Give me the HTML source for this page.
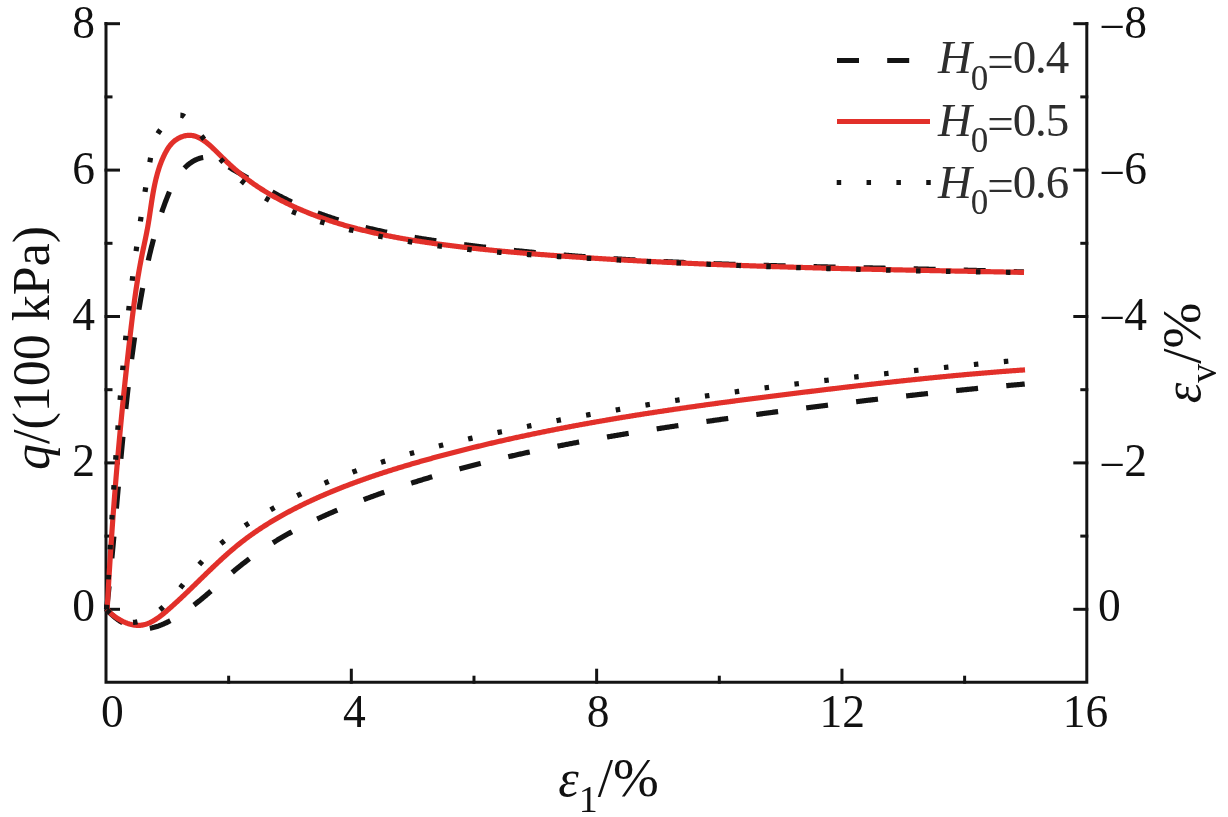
<!DOCTYPE html>
<html><head><meta charset="utf-8"><style>
html,body{margin:0;padding:0;background:#fff;}
body{width:1228px;height:817px;overflow:hidden;}
svg{display:block;will-change:transform;}
text{font-family:"Liberation Serif",serif;fill:#111;}
</style></head><body>
<svg width="1228" height="817" viewBox="0 0 1228 817">
<rect width="1228" height="817" fill="#fff"/>
<path d="M106,22 V682.2 H1086.8 V22" fill="none" stroke="#141414" stroke-width="3.0" stroke-linejoin="miter"/>
<line x1="104.5" y1="609.30" x2="120.00" y2="609.30" stroke="#141414" stroke-width="3.0"/>
<line x1="104.5" y1="536.10" x2="112.50" y2="536.10" stroke="#141414" stroke-width="3.0"/>
<line x1="104.5" y1="462.90" x2="120.00" y2="462.90" stroke="#141414" stroke-width="3.0"/>
<line x1="104.5" y1="389.70" x2="112.50" y2="389.70" stroke="#141414" stroke-width="3.0"/>
<line x1="104.5" y1="316.50" x2="120.00" y2="316.50" stroke="#141414" stroke-width="3.0"/>
<line x1="104.5" y1="243.30" x2="112.50" y2="243.30" stroke="#141414" stroke-width="3.0"/>
<line x1="104.5" y1="170.10" x2="120.00" y2="170.10" stroke="#141414" stroke-width="3.0"/>
<line x1="104.5" y1="96.90" x2="112.50" y2="96.90" stroke="#141414" stroke-width="3.0"/>
<line x1="104.5" y1="23.70" x2="120.00" y2="23.70" stroke="#141414" stroke-width="3.0"/>
<line x1="1088.3" y1="609.30" x2="1073.30" y2="609.30" stroke="#141414" stroke-width="3.0"/>
<line x1="1088.3" y1="536.10" x2="1080.30" y2="536.10" stroke="#141414" stroke-width="3.0"/>
<line x1="1088.3" y1="462.90" x2="1073.30" y2="462.90" stroke="#141414" stroke-width="3.0"/>
<line x1="1088.3" y1="389.70" x2="1080.30" y2="389.70" stroke="#141414" stroke-width="3.0"/>
<line x1="1088.3" y1="316.50" x2="1073.30" y2="316.50" stroke="#141414" stroke-width="3.0"/>
<line x1="1088.3" y1="243.30" x2="1080.30" y2="243.30" stroke="#141414" stroke-width="3.0"/>
<line x1="1088.3" y1="170.10" x2="1073.30" y2="170.10" stroke="#141414" stroke-width="3.0"/>
<line x1="1088.3" y1="96.90" x2="1080.30" y2="96.90" stroke="#141414" stroke-width="3.0"/>
<line x1="1088.3" y1="23.70" x2="1073.30" y2="23.70" stroke="#141414" stroke-width="3.0"/>
<line x1="228.66" y1="683.7" x2="228.66" y2="675.70" stroke="#141414" stroke-width="3.0"/>
<line x1="351.32" y1="683.7" x2="351.32" y2="668.70" stroke="#141414" stroke-width="3.0"/>
<line x1="473.98" y1="683.7" x2="473.98" y2="675.70" stroke="#141414" stroke-width="3.0"/>
<line x1="596.64" y1="683.7" x2="596.64" y2="668.70" stroke="#141414" stroke-width="3.0"/>
<line x1="719.30" y1="683.7" x2="719.30" y2="675.70" stroke="#141414" stroke-width="3.0"/>
<line x1="841.96" y1="683.7" x2="841.96" y2="668.70" stroke="#141414" stroke-width="3.0"/>
<line x1="964.62" y1="683.7" x2="964.62" y2="675.70" stroke="#141414" stroke-width="3.0"/>
<path d="M105.95,608.93 L106.71,609.75 L107.47,610.55 L108.24,611.35 L109.03,612.13 L109.82,612.90 L110.61,613.66 L111.42,614.40 L112.23,615.13 L113.06,615.84 L113.88,616.54 L114.72,617.23 L115.56,617.90 L116.41,618.55 L117.26,619.19 L118.12,619.81 L118.99,620.41 L119.86,621.00 L120.74,621.57 L121.62,622.12 L122.51,622.65 L123.40,623.16 L124.30,623.66 L125.20,624.13 L126.10,624.58 L127.01,625.02 L127.92,625.43 L128.84,625.82 L129.76,626.19 L130.68,626.54 L131.61,626.86 L132.53,627.16 L133.46,627.44 L134.40,627.70 L135.33,627.93 L136.27,628.13 L137.20,628.32 L138.14,628.47 L139.08,628.60 L140.02,628.71 L140.96,628.79 L141.91,628.84 L142.85,628.87 L143.79,628.87 L144.73,628.84 L145.68,628.79 L146.62,628.72 L147.56,628.62 L148.50,628.50 L149.44,628.36 L150.38,628.20 L151.32,628.01 L152.26,627.81 L153.19,627.59 L154.13,627.35 L155.06,627.09 L155.99,626.81 L156.92,626.51 L157.85,626.20 L158.78,625.88 L159.70,625.53 L160.62,625.18 L161.54,624.81 L162.45,624.43 L163.37,624.03 L164.28,623.63 L165.19,623.21 L166.09,622.78 L166.99,622.35 L167.89,621.90 L168.78,621.44 L169.67,620.98 L170.55,620.51 L171.44,620.03 L172.31,619.55 L173.19,619.06 L174.06,618.57 L174.92,618.06 L175.78,617.56 L176.64,617.04 L177.50,616.53 L178.35,616.00 L179.19,615.47 L180.04,614.94 L180.88,614.40 L181.71,613.85 L182.55,613.30 L183.38,612.75 L184.20,612.19 L185.03,611.63 L185.85,611.06 L186.67,610.48 L187.48,609.91 L188.30,609.32 L189.11,608.74 L189.91,608.15 L190.72,607.55 L191.52,606.95 L192.32,606.35 L193.12,605.75 L193.91,605.14 L194.70,604.53 L195.49,603.91 L196.28,603.29 L197.07,602.67 L197.85,602.04 L198.64,601.42 L199.42,600.78 L200.20,600.15 L200.97,599.51 L201.75,598.88 L202.52,598.23 L203.30,597.59 L204.07,596.95 L204.84,596.30 L205.61,595.65 L206.37,595.00 L207.14,594.34 L207.90,593.69 L208.67,593.03 L209.43,592.37 L210.19,591.71 L210.95,591.05 L211.72,590.39 L212.48,589.73 L213.23,589.07 L213.99,588.40 L214.75,587.74 L215.51,587.07 L216.27,586.40 L217.03,585.74 L217.78,585.07 L218.54,584.40 L219.30,583.73 L220.05,583.07 L220.81,582.40 L221.57,581.73 L222.33,581.06 L223.08,580.40 L223.84,579.73 L224.60,579.07 L225.36,578.40 L226.12,577.74 L226.88,577.07 L227.64,576.41 L228.40,575.75 L229.17,575.09 L229.93,574.43 L230.69,573.78 L231.46,573.12 L232.23,572.47 L232.99,571.82 L233.76,571.17 L234.53,570.52 L235.31,569.87 L236.08,569.23 L236.85,568.59 L237.63,567.95 L238.41,567.31 L239.19,566.68 L239.97,566.05 L240.75,565.42 L241.54,564.79 L242.33,564.17 L243.12,563.55 L243.91,562.93 L244.70,562.32 L245.49,561.70 L246.29,561.09 L247.09,560.49 L247.89,559.88 L248.69,559.28 L249.49,558.68 L250.30,558.09 L251.11,557.50 L251.92,556.91 L252.73,556.32 L253.54,555.73 L254.35,555.15 L255.17,554.57 L255.98,553.99 L256.80,553.42 L257.62,552.84 L258.44,552.27 L259.27,551.71 L260.09,551.14 L260.92,550.58 L261.75,550.02 L262.58,549.46 L263.41,548.91 L264.24,548.36 L265.08,547.81 L265.92,547.26 L266.75,546.71 L267.59,546.17 L268.43,545.63 L269.28,545.09 L270.12,544.56 L270.96,544.02 L271.81,543.49 L272.66,542.97 L273.51,542.44 L274.36,541.92 L275.21,541.39 L276.07,540.88 L276.92,540.36 L277.78,539.84 L278.64,539.33 L279.50,538.82 L280.36,538.31 L281.22,537.81 L282.08,537.30 L282.95,536.80 L283.81,536.30 L284.68,535.81 L285.55,535.31 L286.42,534.82 L287.29,534.33 L288.16,533.84 L289.04,533.36 L289.91,532.87 L290.79,532.39 L291.67,531.91 L292.54,531.43 L293.42,530.96 L294.30,530.48 L295.19,530.01 L296.07,529.54 L296.95,529.07 L297.84,528.61 L298.73,528.14 L299.62,527.68 L300.50,527.22 L301.39,526.76 L302.29,526.31 L303.18,525.85 L304.07,525.40 L304.97,524.95 L305.86,524.50 L306.76,524.06 L307.65,523.61 L308.55,523.17 L309.45,522.73 L310.35,522.29 L311.25,521.85 L312.16,521.42 L313.06,520.99 L313.96,520.55 L314.87,520.12 L315.78,519.70 L316.68,519.27 L317.59,518.85 L318.50,518.42 L319.41,518.00 L320.32,517.58 L321.23,517.16 L322.14,516.75 L323.06,516.33 L323.97,515.92 L324.89,515.51 L325.80,515.10 L326.72,514.69 L327.63,514.28 L328.55,513.88 L329.47,513.48 L330.39,513.08 L331.31,512.68 L332.23,512.28 L333.15,511.88 L334.08,511.48 L335.00,511.09 L335.92,510.70 L336.85,510.31 L337.77,509.92 L338.70,509.53 L339.62,509.14 L340.55,508.76 L341.48,508.37 L342.41,507.99 L343.34,507.61 L344.27,507.23 L345.20,506.85 L346.13,506.48 L347.06,506.10 L347.99,505.73 L348.92,505.36 L349.85,504.98 L350.79,504.61 L351.72,504.25 L352.66,503.88 L353.59,503.51 L354.53,503.15 L355.46,502.78 L356.40,502.42 L357.33,502.06 L358.27,501.70 L359.21,501.34 L360.15,500.98 L361.08,500.63 L362.02,500.27 L362.96,499.92 L363.90,499.56 L364.84,499.21 L365.78,498.86 L366.72,498.51 L367.66,498.16 L368.60,497.82 L369.54,497.47 L370.49,497.12 L371.43,496.78 L372.37,496.44 L373.31,496.10 L374.25,495.75 L375.20,495.41 L376.14,495.07 L377.08,494.74 L378.03,494.40 L378.97,494.06 L379.92,493.73 L380.86,493.39 L381.80,493.06 L382.75,492.73 L383.69,492.40 L384.64,492.07 L385.58,491.74 L386.53,491.41 L387.48,491.08 L388.42,490.76 L389.37,490.43 L390.31,490.11 L391.26,489.78 L392.21,489.46 L393.16,489.14 L394.10,488.82 L395.05,488.50 L396.00,488.18 L396.95,487.86 L397.89,487.55 L398.84,487.23 L399.79,486.91 L400.74,486.60 L401.69,486.29 L402.64,485.98 L403.59,485.66 L404.54,485.35 L405.49,485.04 L406.44,484.74 L407.39,484.43 L408.34,484.12 L409.29,483.82 L410.24,483.51 L411.19,483.21 L412.15,482.90 L413.10,482.60 L414.05,482.30 L415.00,482.00 L415.95,481.70 L416.91,481.40 L417.86,481.11 L418.81,480.81 L419.77,480.51 L420.72,480.22 L421.67,479.92 L422.63,479.63 L423.58,479.34 L424.53,479.05 L425.49,478.76 L426.44,478.47 L427.40,478.18 L428.35,477.89 L429.31,477.60 L430.26,477.32 L431.22,477.03 L432.18,476.75 L433.13,476.46 L434.09,476.18 L435.05,475.90 L436.00,475.62 L436.96,475.34 L437.92,475.06 L438.87,474.78 L439.83,474.50 L440.79,474.22 L441.75,473.95 L442.70,473.67 L443.66,473.40 L444.62,473.12 L445.58,472.85 L446.54,472.58 L447.50,472.31 L448.46,472.04 L449.42,471.77 L450.38,471.50 L451.34,471.23 L452.30,470.96 L453.26,470.70 L454.22,470.43 L455.18,470.17 L456.14,469.90 L457.10,469.64 L458.06,469.38 L459.02,469.12 L459.98,468.86 L460.95,468.60 L461.91,468.34 L462.87,468.08 L463.83,467.82 L464.79,467.56 L465.76,467.31 L466.72,467.05 L467.68,466.80 L468.65,466.54 L469.61,466.29 L470.57,466.04 L471.54,465.79 L472.50,465.53 L473.47,465.28 L474.43,465.04 L475.39,464.79 L476.36,464.54 L477.32,464.29 L478.29,464.05 L479.25,463.80 L480.22,463.55 L481.18,463.31 L482.15,463.07 L483.12,462.82 L484.08,462.58 L485.05,462.34 L486.02,462.10 L486.98,461.86 L487.95,461.62 L488.92,461.38 L489.88,461.14 L490.85,460.91 L491.82,460.67 L492.79,460.43 L493.75,460.20 L494.72,459.97 L495.69,459.73 L496.66,459.50 L497.63,459.27 L498.59,459.04 L499.56,458.80 L500.53,458.57 L501.50,458.34 L502.47,458.12 L503.44,457.89 L504.41,457.66 L505.38,457.43 L506.35,457.21 L507.32,456.98 L508.29,456.76 L509.26,456.53 L510.23,456.31 L511.20,456.09 L512.17,455.86 L513.14,455.64 L514.12,455.42 L515.09,455.20 L516.06,454.98 L517.03,454.76 L518.00,454.54 L518.97,454.33 L519.95,454.11 L520.92,453.89 L521.89,453.68 L522.86,453.46 L523.84,453.25 L524.81,453.03 L525.78,452.82 L526.76,452.61 L527.73,452.39 L528.70,452.18 L529.68,451.97 L530.65,451.76 L531.62,451.55 L532.60,451.34 L533.57,451.13 L534.55,450.93 L535.52,450.72 L536.50,450.51 L537.47,450.30 L538.45,450.10 L539.42,449.89 L540.40,449.69 L541.37,449.49 L542.35,449.28 L543.32,449.08 L544.30,448.88 L545.28,448.68 L546.25,448.47 L547.23,448.27 L548.21,448.07 L549.18,447.87 L550.16,447.68 L551.14,447.48 L552.11,447.28 L553.09,447.08 L554.07,446.89 L555.04,446.69 L556.02,446.49 L557.00,446.30 L557.98,446.10 L558.96,445.91 L559.93,445.72 L560.91,445.52 L561.89,445.33 L562.87,445.14 L563.85,444.95 L564.83,444.76 L565.81,444.57 L566.78,444.38 L567.76,444.19 L568.74,444.00 L569.72,443.81 L570.70,443.62 L571.68,443.44 L572.66,443.25 L573.64,443.06 L574.62,442.88 L575.60,442.69 L576.58,442.51 L577.56,442.32 L578.54,442.14 L579.52,441.96 L580.51,441.77 L581.49,441.59 L582.47,441.41 L583.45,441.23 L584.43,441.05 L585.41,440.86 L586.39,440.68 L587.37,440.50 L588.36,440.33 L589.34,440.15 L590.32,439.97 L591.30,439.79 L592.29,439.61 L593.27,439.44 L594.25,439.26 L595.23,439.08 L596.22,438.91 L597.20,438.73 L598.18,438.56 L599.16,438.38 L600.15,438.21 L601.13,438.04 L602.11,437.86 L603.10,437.69 L604.08,437.52 L605.07,437.35 L606.05,437.18 L607.03,437.00 L608.02,436.83 L609.00,436.66 L609.99,436.49 L610.97,436.32 L611.95,436.16 L612.94,435.99 L613.92,435.82 L614.91,435.65 L615.89,435.48 L616.88,435.32 L617.86,435.15 L618.85,434.98 L619.84,434.82 L620.82,434.65 L621.81,434.49 L622.79,434.32 L623.78,434.16 L624.76,433.99 L625.75,433.83 L626.74,433.67 L627.72,433.50 L628.71,433.34 L629.69,433.18 L630.68,433.02 L631.67,432.86 L632.65,432.69 L633.64,432.53 L634.63,432.37 L635.61,432.21 L636.60,432.05 L637.59,431.89 L638.58,431.73 L639.56,431.58 L640.55,431.42 L641.54,431.26 L642.53,431.10 L643.51,430.94 L644.50,430.79 L645.49,430.63 L646.48,430.47 L647.47,430.32 L648.45,430.16 L649.44,430.00 L650.43,429.85 L651.42,429.69 L652.41,429.54 L653.40,429.38 L654.38,429.23 L655.37,429.08 L656.36,428.92 L657.35,428.77 L658.34,428.62 L659.33,428.46 L660.32,428.31 L661.31,428.16 L662.30,428.01 L663.29,427.85 L664.28,427.70 L665.27,427.55 L666.26,427.40 L667.24,427.25 L668.23,427.10 L669.22,426.95 L670.21,426.80 L671.20,426.65 L672.19,426.50 L673.18,426.35 L674.18,426.20 L675.17,426.05 L676.16,425.91 L677.15,425.76 L678.14,425.61 L679.13,425.46 L680.12,425.31 L681.11,425.17 L682.10,425.02 L683.09,424.87 L684.08,424.73 L685.07,424.58 L686.06,424.43 L687.06,424.29 L688.05,424.14 L689.04,424.00 L690.03,423.85 L691.02,423.71 L692.01,423.56 L693.00,423.42 L694.00,423.27 L694.99,423.13 L695.98,422.98 L696.97,422.84 L697.96,422.70 L698.95,422.55 L699.95,422.41 L700.94,422.27 L701.93,422.12 L702.92,421.98 L703.92,421.84 L704.91,421.69 L705.90,421.55 L706.89,421.41 L707.89,421.27 L708.88,421.13 L709.87,420.98 L710.86,420.84 L711.86,420.70 L712.85,420.56 L713.84,420.42 L714.83,420.28 L715.83,420.14 L716.82,420.00 L717.81,419.85 L718.81,419.71 L719.80,419.57 L720.79,419.43 L721.79,419.29 L722.78,419.15 L723.77,419.01 L724.77,418.87 L725.76,418.73 L726.75,418.59 L727.75,418.46 L728.74,418.32 L729.73,418.18 L730.73,418.04 L731.72,417.90 L732.72,417.76 L733.71,417.62 L734.70,417.48 L735.70,417.35 L736.69,417.21 L737.68,417.07 L738.68,416.93 L739.67,416.79 L740.67,416.66 L741.66,416.52 L742.66,416.38 L743.65,416.24 L744.64,416.11 L745.64,415.97 L746.63,415.83 L747.63,415.70 L748.62,415.56 L749.62,415.42 L750.61,415.29 L751.60,415.15 L752.60,415.02 L753.59,414.88 L754.59,414.75 L755.58,414.61 L756.58,414.47 L757.57,414.34 L758.57,414.20 L759.56,414.07 L760.56,413.93 L761.55,413.80 L762.55,413.67 L763.54,413.53 L764.54,413.40 L765.53,413.26 L766.53,413.13 L767.52,413.00 L768.52,412.86 L769.51,412.73 L770.51,412.60 L771.50,412.46 L772.50,412.33 L773.49,412.20 L774.49,412.06 L775.48,411.93 L776.48,411.80 L777.47,411.67 L778.47,411.53 L779.46,411.40 L780.46,411.27 L781.45,411.14 L782.45,411.01 L783.45,410.88 L784.44,410.75 L785.44,410.61 L786.43,410.48 L787.43,410.35 L788.42,410.22 L789.42,410.09 L790.41,409.96 L791.41,409.83 L792.40,409.70 L793.40,409.57 L794.40,409.44 L795.39,409.31 L796.39,409.18 L797.38,409.05 L798.38,408.92 L799.37,408.80 L800.37,408.67 L801.36,408.54 L802.36,408.41 L803.36,408.28 L804.35,408.15 L805.35,408.03 L806.34,407.90 L807.34,407.77 L808.33,407.64 L809.33,407.51 L810.33,407.39 L811.32,407.26 L812.32,407.13 L813.31,407.01 L814.31,406.88 L815.30,406.75 L816.30,406.63 L817.30,406.50 L818.29,406.38 L819.29,406.25 L820.28,406.12 L821.28,406.00 L822.27,405.87 L823.27,405.75 L824.26,405.62 L825.26,405.50 L826.26,405.37 L827.25,405.25 L828.25,405.12 L829.24,405.00 L830.24,404.88 L831.23,404.75 L832.23,404.63 L833.23,404.51 L834.22,404.38 L835.22,404.26 L836.21,404.14 L837.21,404.01 L838.20,403.89 L839.20,403.77 L840.20,403.65 L841.19,403.52 L842.19,403.40 L843.18,403.28 L844.18,403.16 L845.17,403.04 L846.17,402.91 L847.16,402.79 L848.16,402.67 L849.15,402.55 L850.15,402.43 L851.15,402.31 L852.14,402.19 L853.14,402.07 L854.13,401.95 L855.13,401.83 L856.12,401.71 L857.12,401.59 L858.11,401.47 L859.11,401.35 L860.10,401.23 L861.10,401.11 L862.09,401.00 L863.09,400.88 L864.08,400.76 L865.08,400.64 L866.07,400.52 L867.07,400.40 L868.06,400.29 L869.06,400.17 L870.05,400.05 L871.05,399.94 L872.04,399.82 L873.04,399.70 L874.03,399.58 L875.03,399.47 L876.02,399.35 L877.02,399.24 L878.01,399.12 L879.01,399.00 L880.00,398.89 L881.00,398.77 L881.99,398.66 L882.99,398.54 L883.98,398.43 L884.98,398.31 L885.97,398.20 L886.96,398.08 L887.96,397.97 L888.95,397.86 L889.95,397.74 L890.94,397.63 L891.94,397.52 L892.93,397.40 L893.93,397.29 L894.92,397.18 L895.91,397.06 L896.91,396.95 L897.90,396.84 L898.90,396.73 L899.89,396.61 L900.88,396.50 L901.88,396.39 L902.87,396.28 L903.86,396.17 L904.86,396.06 L905.85,395.95 L906.85,395.84 L907.84,395.73 L908.83,395.62 L909.83,395.50 L910.82,395.39 L911.81,395.29 L912.81,395.18 L913.80,395.07 L914.79,394.96 L915.79,394.85 L916.78,394.74 L917.77,394.63 L918.77,394.52 L919.76,394.41 L920.75,394.31 L921.75,394.20 L922.74,394.09 L923.73,393.98 L924.72,393.87 L925.72,393.77 L926.71,393.66 L927.70,393.55 L928.69,393.45 L929.69,393.34 L930.68,393.23 L931.67,393.13 L932.66,393.02 L933.66,392.92 L934.65,392.81 L935.64,392.71 L936.63,392.60 L937.62,392.50 L938.62,392.39 L939.61,392.29 L940.60,392.18 L941.59,392.08 L942.58,391.97 L943.57,391.87 L944.57,391.77 L945.56,391.66 L946.55,391.56 L947.54,391.46 L948.53,391.35 L949.52,391.25 L950.51,391.15 L951.51,391.05 L952.50,390.94 L953.49,390.84 L954.48,390.74 L955.47,390.64 L956.46,390.54 L957.45,390.44 L958.44,390.34 L959.43,390.24 L960.42,390.14 L961.41,390.04 L962.40,389.94 L963.39,389.84 L964.38,389.74 L965.37,389.64 L966.36,389.54 L967.35,389.44 L968.34,389.34 L969.33,389.24 L970.32,389.14 L971.31,389.04 L972.30,388.95 L973.29,388.85 L974.28,388.75 L975.27,388.65 L976.26,388.55 L977.25,388.46 L978.24,388.36 L979.23,388.26 L980.21,388.17 L981.20,388.07 L982.19,387.98 L983.18,387.88 L984.17,387.78 L985.16,387.69 L986.15,387.59 L987.13,387.50 L988.12,387.40 L989.11,387.31 L990.10,387.21 L991.09,387.12 L992.07,387.03 L993.06,386.93 L994.05,386.84 L995.04,386.75 L996.02,386.65 L997.01,386.56 L998.00,386.47 L998.99,386.37 L999.97,386.28 L1000.96,386.19 L1001.95,386.10 L1002.93,386.01 L1003.92,385.91 L1004.91,385.82 L1005.89,385.73 L1006.88,385.64 L1007.87,385.55 L1008.85,385.46 L1009.84,385.37 L1010.82,385.28 L1011.81,385.19 L1012.80,385.10 L1013.78,385.01 L1014.77,384.92 L1015.75,384.83 L1016.74,384.74 L1017.72,384.65 L1018.71,384.57 L1019.69,384.48 L1020.68,384.39 L1021.66,384.30 L1022.65,384.21 L1023.63,384.13 L1024.62,384.04 L1024.72,384.03" fill="none" stroke="#141414" stroke-width="5.2" stroke-dasharray="22 28.33" stroke-dashoffset="0.25"/>
<path d="M106.61,609.22 L106.72,608.23 L106.83,607.24 L106.94,606.25 L107.05,605.26 L107.16,604.27 L107.27,603.29 L107.38,602.30 L107.48,601.31 L107.59,600.32 L107.70,599.33 L107.81,598.34 L107.91,597.35 L108.02,596.36 L108.12,595.37 L108.23,594.38 L108.33,593.39 L108.44,592.40 L108.54,591.41 L108.65,590.42 L108.75,589.43 L108.85,588.44 L108.96,587.45 L109.06,586.45 L109.16,585.46 L109.26,584.47 L109.36,583.48 L109.46,582.49 L109.57,581.50 L109.67,580.50 L109.77,579.51 L109.87,578.52 L109.97,577.53 L110.07,576.54 L110.16,575.54 L110.26,574.55 L110.36,573.56 L110.46,572.57 L110.56,571.57 L110.66,570.58 L110.75,569.59 L110.85,568.59 L110.95,567.60 L111.04,566.61 L111.14,565.61 L111.24,564.62 L111.33,563.63 L111.43,562.63 L111.52,561.64 L111.62,560.64 L111.71,559.65 L111.81,558.66 L111.90,557.66 L112.00,556.67 L112.09,555.67 L112.19,554.68 L112.28,553.68 L112.37,552.69 L112.47,551.69 L112.56,550.70 L112.65,549.70 L112.75,548.71 L112.84,547.71 L112.93,546.72 L113.02,545.72 L113.12,544.73 L113.21,543.73 L113.30,542.74 L113.39,541.74 L113.48,540.75 L113.57,539.75 L113.67,538.75 L113.76,537.76 L113.85,536.76 L113.94,535.77 L114.03,534.77 L114.12,533.77 L114.21,532.78 L114.30,531.78 L114.39,530.78 L114.48,529.79 L114.57,528.79 L114.66,527.79 L114.75,526.80 L114.84,525.80 L114.93,524.80 L115.02,523.81 L115.11,522.81 L115.20,521.81 L115.29,520.82 L115.38,519.82 L115.46,518.82 L115.55,517.83 L115.64,516.83 L115.73,515.83 L115.82,514.83 L115.91,513.84 L116.00,512.84 L116.09,511.84 L116.18,510.84 L116.26,509.85 L116.35,508.85 L116.44,507.85 L116.53,506.85 L116.62,505.86 L116.71,504.86 L116.80,503.86 L116.89,502.86 L116.97,501.87 L117.06,500.87 L117.15,499.87 L117.24,498.87 L117.33,497.88 L117.42,496.88 L117.51,495.88 L117.59,494.88 L117.68,493.88 L117.77,492.89 L117.86,491.89 L117.95,490.89 L118.04,489.89 L118.13,488.89 L118.22,487.90 L118.31,486.90 L118.39,485.90 L118.48,484.90 L118.57,483.90 L118.66,482.91 L118.75,481.91 L118.84,480.91 L118.93,479.91 L119.02,478.91 L119.11,477.92 L119.20,476.92 L119.29,475.92 L119.38,474.92 L119.47,473.92 L119.56,472.93 L119.65,471.93 L119.74,470.93 L119.83,469.93 L119.92,468.93 L120.01,467.94 L120.10,466.94 L120.20,465.94 L120.29,464.94 L120.38,463.94 L120.47,462.95 L120.56,461.95 L120.65,460.95 L120.75,459.95 L120.84,458.95 L120.93,457.96 L121.02,456.96 L121.12,455.96 L121.21,454.96 L121.30,453.96 L121.40,452.97 L121.49,451.97 L121.58,450.97 L121.68,449.97 L121.77,448.98 L121.87,447.98 L121.96,446.98 L122.06,445.98 L122.15,444.99 L122.25,443.99 L122.34,442.99 L122.44,441.99 L122.53,441.00 L122.63,440.00 L122.73,439.00 L122.82,438.00 L122.92,437.01 L123.02,436.01 L123.11,435.01 L123.21,434.02 L123.31,433.02 L123.41,432.02 L123.51,431.02 L123.61,430.03 L123.70,429.03 L123.80,428.03 L123.90,427.04 L124.00,426.04 L124.10,425.04 L124.20,424.05 L124.31,423.05 L124.41,422.06 L124.51,421.06 L124.61,420.06 L124.71,419.07 L124.81,418.07 L124.92,417.07 L125.02,416.08 L125.12,415.08 L125.23,414.09 L125.33,413.09 L125.44,412.10 L125.54,411.10 L125.65,410.10 L125.75,409.11 L125.86,408.11 L125.96,407.12 L126.07,406.12 L126.18,405.13 L126.29,404.13 L126.39,403.14 L126.50,402.14 L126.61,401.15 L126.72,400.15 L126.83,399.16 L126.94,398.16 L127.05,397.17 L127.16,396.18 L127.27,395.18 L127.38,394.19 L127.49,393.19 L127.61,392.20 L127.72,391.20 L127.83,390.21 L127.95,389.22 L128.06,388.22 L128.18,387.23 L128.29,386.24 L128.41,385.24 L128.52,384.25 L128.64,383.26 L128.76,382.26 L128.87,381.27 L128.99,380.28 L129.11,379.29 L129.23,378.29 L129.35,377.30 L129.47,376.31 L129.59,375.32 L129.71,374.33 L129.83,373.33 L129.95,372.34 L130.07,371.35 L130.20,370.36 L130.32,369.37 L130.44,368.38 L130.57,367.38 L130.69,366.39 L130.82,365.40 L130.94,364.41 L131.07,363.42 L131.20,362.43 L131.32,361.44 L131.45,360.45 L131.58,359.46 L131.71,358.47 L131.84,357.48 L131.97,356.49 L132.10,355.50 L132.23,354.51 L132.37,353.52 L132.50,352.53 L132.63,351.54 L132.77,350.55 L132.90,349.57 L133.04,348.58 L133.17,347.59 L133.31,346.60 L133.44,345.61 L133.58,344.62 L133.72,343.64 L133.86,342.65 L134.00,341.66 L134.14,340.67 L134.28,339.69 L134.42,338.70 L134.56,337.71 L134.70,336.73 L134.85,335.74 L134.99,334.75 L135.14,333.77 L135.28,332.78 L135.43,331.79 L135.57,330.81 L135.72,329.82 L135.87,328.84 L136.02,327.85 L136.17,326.87 L136.32,325.88 L136.47,324.90 L136.62,323.91 L136.77,322.93 L136.92,321.94 L137.08,320.96 L137.23,319.98 L137.39,318.99 L137.54,318.01 L137.70,317.03 L137.86,316.04 L138.01,315.06 L138.17,314.08 L138.33,313.09 L138.49,312.11 L138.65,311.13 L138.81,310.15 L138.98,309.17 L139.14,308.18 L139.30,307.20 L139.47,306.22 L139.63,305.24 L139.80,304.26 L139.97,303.28 L140.13,302.30 L140.30,301.32 L140.47,300.34 L140.64,299.36 L140.81,298.38 L140.98,297.40 L141.16,296.42 L141.33,295.44 L141.50,294.46 L141.68,293.48 L141.85,292.51 L142.03,291.53 L142.21,290.55 L142.39,289.57 L142.57,288.59 L142.75,287.62 L142.93,286.64 L143.11,285.66 L143.30,284.68 L143.48,283.71 L143.67,282.73 L143.86,281.76 L144.05,280.78 L144.24,279.80 L144.43,278.83 L144.62,277.85 L144.81,276.88 L145.01,275.90 L145.21,274.93 L145.40,273.95 L145.60,272.98 L145.80,272.00 L146.00,271.03 L146.21,270.05 L146.41,269.08 L146.62,268.11 L146.83,267.13 L147.04,266.16 L147.25,265.19 L147.46,264.21 L147.67,263.24 L147.89,262.27 L148.11,261.29 L148.32,260.32 L148.55,259.35 L148.77,258.38 L148.99,257.40 L149.22,256.43 L149.44,255.46 L149.67,254.49 L149.90,253.52 L150.14,252.55 L150.37,251.58 L150.61,250.60 L150.85,249.63 L151.09,248.66 L151.33,247.69 L151.57,246.72 L151.82,245.75 L152.07,244.78 L152.32,243.81 L152.57,242.84 L152.83,241.87 L153.08,240.90 L153.34,239.93 L153.60,238.96 L153.87,237.99 L154.13,237.02 L154.40,236.06 L154.67,235.09 L154.94,234.12 L155.21,233.15 L155.49,232.18 L155.77,231.21 L156.05,230.24 L156.33,229.28 L156.62,228.31 L156.91,227.34 L157.20,226.37 L157.49,225.40 L157.79,224.44 L158.09,223.47 L158.39,222.50 L158.69,221.53 L158.99,220.57 L159.30,219.60 L159.61,218.63 L159.93,217.67 L160.24,216.70 L160.56,215.73 L160.88,214.77 L161.21,213.80 L161.54,212.83 L161.87,211.87 L162.20,210.90 L162.53,209.94 L162.87,208.97 L163.21,208.00 L163.56,207.04 L163.90,206.07 L164.25,205.11 L164.61,204.14 L164.96,203.18 L165.32,202.21 L165.68,201.25 L166.05,200.28 L166.41,199.32 L166.79,198.35 L167.16,197.39 L167.54,196.43 L167.93,195.47 L168.32,194.51 L168.71,193.56 L169.11,192.61 L169.52,191.66 L169.93,190.72 L170.35,189.78 L170.78,188.84 L171.21,187.91 L171.65,186.99 L172.10,186.07 L172.56,185.15 L173.03,184.24 L173.50,183.34 L173.98,182.45 L174.48,181.56 L174.98,180.68 L175.49,179.81 L176.01,178.95 L176.55,178.09 L177.09,177.25 L177.64,176.41 L178.21,175.58 L178.79,174.77 L179.38,173.96 L179.98,173.17 L180.60,172.38 L181.23,171.61 L181.87,170.85 L182.52,170.10 L183.19,169.36 L183.88,168.64 L184.58,167.93 L185.29,167.24 L186.01,166.56 L186.75,165.89 L187.50,165.25 L188.26,164.62 L189.03,164.01 L189.82,163.42 L190.61,162.86 L191.41,162.31 L192.23,161.79 L193.05,161.29 L193.88,160.81 L194.72,160.37 L195.56,159.94 L196.41,159.55 L197.27,159.18 L198.14,158.84 L199.01,158.53 L199.89,158.26 L200.77,158.01 L201.65,157.80 L202.54,157.62 L203.43,157.48 L204.33,157.37 L205.22,157.30 L206.12,157.26 L207.02,157.26 L207.92,157.31 L208.83,157.39 L209.73,157.51 L210.63,157.67 L211.53,157.88 L212.43,158.13 L213.33,158.42 L214.23,158.74 L215.12,159.10 L216.02,159.49 L216.91,159.91 L217.81,160.36 L218.70,160.83 L219.59,161.31 L220.48,161.82 L221.37,162.34 L222.26,162.88 L223.15,163.43 L224.04,163.98 L224.92,164.54 L225.81,165.10 L226.70,165.66 L227.58,166.22 L228.46,166.77 L229.35,167.31 L230.23,167.85 L231.11,168.39 L232.00,168.92 L232.88,169.45 L233.76,169.97 L234.64,170.49 L235.52,171.00 L236.40,171.52 L237.28,172.03 L238.16,172.53 L239.04,173.04 L239.91,173.54 L240.79,174.04 L241.67,174.54 L242.55,175.04 L243.43,175.54 L244.30,176.04 L245.18,176.54 L246.06,177.04 L246.94,177.54 L247.81,178.04 L248.69,178.54 L249.57,179.05 L250.45,179.55 L251.32,180.05 L252.20,180.56 L253.08,181.07 L253.96,181.57 L254.83,182.08 L255.71,182.59 L256.59,183.09 L257.47,183.60 L258.35,184.11 L259.23,184.61 L260.11,185.12 L260.99,185.63 L261.87,186.13 L262.75,186.64 L263.63,187.14 L264.51,187.64 L265.40,188.14 L266.28,188.65 L267.16,189.14 L268.05,189.64 L268.93,190.14 L269.82,190.63 L270.70,191.13 L271.59,191.62 L272.48,192.11 L273.36,192.60 L274.25,193.08 L275.14,193.56 L276.03,194.05 L276.93,194.52 L277.82,195.00 L278.71,195.47 L279.61,195.94 L280.50,196.41 L281.40,196.87 L282.29,197.34 L283.19,197.79 L284.09,198.25 L284.99,198.70 L285.89,199.15 L286.80,199.59 L287.70,200.04 L288.60,200.48 L289.51,200.91 L290.42,201.35 L291.32,201.78 L292.23,202.20 L293.14,202.63 L294.05,203.05 L294.96,203.47 L295.87,203.88 L296.79,204.30 L297.70,204.71 L298.62,205.11 L299.53,205.52 L300.45,205.92 L301.37,206.31 L302.28,206.71 L303.20,207.10 L304.12,207.49 L305.04,207.88 L305.97,208.26 L306.89,208.64 L307.81,209.02 L308.74,209.40 L309.66,209.77 L310.59,210.14 L311.52,210.51 L312.45,210.88 L313.37,211.24 L314.30,211.60 L315.24,211.95 L316.17,212.31 L317.10,212.66 L318.03,213.01 L318.97,213.36 L319.90,213.70 L320.84,214.04 L321.77,214.38 L322.71,214.72 L323.65,215.05 L324.59,215.38 L325.53,215.71 L326.47,216.04 L327.41,216.36 L328.35,216.69 L329.29,217.00 L330.23,217.32 L331.18,217.64 L332.12,217.95 L333.07,218.26 L334.01,218.57 L334.96,218.87 L335.91,219.17 L336.86,219.47 L337.81,219.77 L338.76,220.07 L339.71,220.36 L340.66,220.65 L341.61,220.94 L342.56,221.23 L343.51,221.52 L344.47,221.80 L345.42,222.08 L346.38,222.36 L347.33,222.64 L348.29,222.91 L349.25,223.18 L350.20,223.45 L351.16,223.72 L352.12,223.99 L353.08,224.25 L354.04,224.51 L355.00,224.77 L355.96,225.03 L356.92,225.29 L357.89,225.54 L358.85,225.79 L359.81,226.04 L360.78,226.29 L361.74,226.54 L362.71,226.78 L363.67,227.02 L364.64,227.26 L365.60,227.50 L366.57,227.74 L367.54,227.98 L368.51,228.21 L369.48,228.44 L370.45,228.67 L371.41,228.90 L372.39,229.12 L373.36,229.35 L374.33,229.57 L375.30,229.79 L376.27,230.01 L377.24,230.23 L378.22,230.45 L379.19,230.66 L380.17,230.87 L381.14,231.09 L382.11,231.30 L383.09,231.50 L384.07,231.71 L385.04,231.92 L386.02,232.12 L387.00,232.32 L387.97,232.52 L388.95,232.72 L389.93,232.92 L390.91,233.11 L391.89,233.31 L392.87,233.50 L393.85,233.69 L394.83,233.88 L395.81,234.07 L396.79,234.26 L397.77,234.45 L398.75,234.63 L399.73,234.82 L400.72,235.00 L401.70,235.18 L402.68,235.36 L403.66,235.54 L404.65,235.72 L405.63,235.89 L406.62,236.07 L407.60,236.24 L408.59,236.41 L409.57,236.58 L410.56,236.75 L411.54,236.92 L412.53,237.09 L413.51,237.26 L414.50,237.42 L415.49,237.59 L416.47,237.75 L417.46,237.91 L418.45,238.07 L419.44,238.23 L420.42,238.39 L421.41,238.55 L422.40,238.71 L423.39,238.87 L424.38,239.02 L425.37,239.18 L426.36,239.33 L427.34,239.48 L428.33,239.63 L429.32,239.78 L430.31,239.93 L431.30,240.08 L432.29,240.23 L433.28,240.38 L434.27,240.53 L435.26,240.67 L436.25,240.82 L437.25,240.96 L438.24,241.10 L439.23,241.25 L440.22,241.39 L441.21,241.53 L442.20,241.67 L443.19,241.81 L444.18,241.95 L445.18,242.09 L446.17,242.23 L447.16,242.36 L448.15,242.50 L449.14,242.64 L450.14,242.77 L451.13,242.91 L452.12,243.04 L453.11,243.18 L454.10,243.31 L455.10,243.44 L456.09,243.58 L457.08,243.71 L458.07,243.84 L459.06,243.97 L460.06,244.10 L461.05,244.23 L462.04,244.36 L463.03,244.49 L464.03,244.62 L465.02,244.75 L466.01,244.87 L467.01,245.00 L468.00,245.13 L468.99,245.25 L469.98,245.38 L470.98,245.50 L471.97,245.63 L472.96,245.75 L473.96,245.87 L474.95,246.00 L475.94,246.12 L476.93,246.24 L477.93,246.36 L478.92,246.48 L479.91,246.60 L480.91,246.72 L481.90,246.84 L482.89,246.96 L483.89,247.08 L484.88,247.19 L485.88,247.31 L486.87,247.43 L487.86,247.54 L488.86,247.66 L489.85,247.78 L490.84,247.89 L491.84,248.00 L492.83,248.12 L493.82,248.23 L494.82,248.34 L495.81,248.46 L496.81,248.57 L497.80,248.68 L498.79,248.79 L499.79,248.90 L500.78,249.01 L501.78,249.12 L502.77,249.23 L503.77,249.34 L504.76,249.45 L505.75,249.55 L506.75,249.66 L507.74,249.77 L508.74,249.87 L509.73,249.98 L510.73,250.08 L511.72,250.19 L512.72,250.29 L513.71,250.40 L514.70,250.50 L515.70,250.60 L516.69,250.71 L517.69,250.81 L518.68,250.91 L519.68,251.01 L520.67,251.11 L521.67,251.21 L522.66,251.31 L523.66,251.41 L524.65,251.51 L525.65,251.61 L526.64,251.71 L527.64,251.80 L528.63,251.90 L529.63,252.00 L530.62,252.09 L531.62,252.19 L532.61,252.28 L533.61,252.38 L534.61,252.47 L535.60,252.57 L536.60,252.66 L537.59,252.75 L538.59,252.85 L539.58,252.94 L540.58,253.03 L541.57,253.12 L542.57,253.21 L543.57,253.30 L544.56,253.40 L545.56,253.48 L546.55,253.57 L547.55,253.66 L548.54,253.75 L549.54,253.84 L550.54,253.93 L551.53,254.02 L552.53,254.10 L553.52,254.19 L554.52,254.27 L555.52,254.36 L556.51,254.45 L557.51,254.53 L558.50,254.62 L559.50,254.70 L560.50,254.78 L561.49,254.87 L562.49,254.95 L563.49,255.03 L564.48,255.11 L565.48,255.20 L566.48,255.28 L567.47,255.36 L568.47,255.44 L569.47,255.52 L570.46,255.60 L571.46,255.68 L572.45,255.76 L573.45,255.84 L574.45,255.91 L575.44,255.99 L576.44,256.07 L577.44,256.15 L578.44,256.22 L579.43,256.30 L580.43,256.38 L581.43,256.45 L582.42,256.53 L583.42,256.60 L584.42,256.68 L585.41,256.75 L586.41,256.82 L587.41,256.90 L588.40,256.97 L589.40,257.04 L590.40,257.12 L591.40,257.19 L592.39,257.26 L593.39,257.33 L594.39,257.40 L595.39,257.47 L596.38,257.54 L597.38,257.61 L598.38,257.68 L599.37,257.75 L600.37,257.82 L601.37,257.89 L602.37,257.96 L603.36,258.02 L604.36,258.09 L605.36,258.16 L606.36,258.23 L607.35,258.29 L608.35,258.36 L609.35,258.42 L610.35,258.49 L611.35,258.55 L612.34,258.62 L613.34,258.68 L614.34,258.75 L615.34,258.81 L616.33,258.87 L617.33,258.94 L618.33,259.00 L619.33,259.06 L620.33,259.13 L621.32,259.19 L622.32,259.25 L623.32,259.31 L624.32,259.37 L625.32,259.43 L626.31,259.49 L627.31,259.55 L628.31,259.61 L629.31,259.67 L630.31,259.73 L631.30,259.79 L632.30,259.85 L633.30,259.90 L634.30,259.96 L635.30,260.02 L636.30,260.08 L637.29,260.13 L638.29,260.19 L639.29,260.25 L640.29,260.30 L641.29,260.36 L642.29,260.41 L643.28,260.47 L644.28,260.52 L645.28,260.58 L646.28,260.63 L647.28,260.69 L648.28,260.74 L649.28,260.79 L650.27,260.85 L651.27,260.90 L652.27,260.95 L653.27,261.00 L654.27,261.06 L655.27,261.11 L656.27,261.16 L657.27,261.21 L658.26,261.26 L659.26,261.31 L660.26,261.36 L661.26,261.41 L662.26,261.46 L663.26,261.51 L664.26,261.56 L665.26,261.61 L666.26,261.66 L667.25,261.71 L668.25,261.75 L669.25,261.80 L670.25,261.85 L671.25,261.90 L672.25,261.94 L673.25,261.99 L674.25,262.04 L675.25,262.08 L676.25,262.13 L677.24,262.18 L678.24,262.22 L679.24,262.27 L680.24,262.31 L681.24,262.36 L682.24,262.40 L683.24,262.45 L684.24,262.49 L685.24,262.53 L686.24,262.58 L687.24,262.62 L688.24,262.67 L689.24,262.71 L690.23,262.75 L691.23,262.79 L692.23,262.84 L693.23,262.88 L694.23,262.92 L695.23,262.96 L696.23,263.00 L697.23,263.04 L698.23,263.08 L699.23,263.13 L700.23,263.17 L701.23,263.21 L702.23,263.25 L703.23,263.29 L704.23,263.33 L705.23,263.37 L706.23,263.40 L707.23,263.44 L708.22,263.48 L709.22,263.52 L710.22,263.56 L711.22,263.60 L712.22,263.64 L713.22,263.67 L714.22,263.71 L715.22,263.75 L716.22,263.79 L717.22,263.82 L718.22,263.86 L719.22,263.90 L720.22,263.93 L721.22,263.97 L722.22,264.00 L723.22,264.04 L724.22,264.08 L725.22,264.11 L726.22,264.15 L727.22,264.18 L728.22,264.22 L729.22,264.25 L730.22,264.29 L731.22,264.32 L732.22,264.35 L733.22,264.39 L734.22,264.42 L735.22,264.46 L736.22,264.49 L737.22,264.52 L738.22,264.56 L739.22,264.59 L740.22,264.62 L741.22,264.65 L742.22,264.69 L743.22,264.72 L744.22,264.75 L745.22,264.78 L746.22,264.81 L747.22,264.85 L748.22,264.88 L749.22,264.91 L750.22,264.94 L751.22,264.97 L752.22,265.00 L753.22,265.03 L754.22,265.06 L755.22,265.09 L756.22,265.12 L757.22,265.15 L758.22,265.18 L759.22,265.21 L760.22,265.24 L761.22,265.27 L762.22,265.30 L763.22,265.33 L764.22,265.36 L765.22,265.39 L766.22,265.42 L767.22,265.45 L768.22,265.47 L769.22,265.50 L770.22,265.53 L771.22,265.56 L772.22,265.59 L773.22,265.62 L774.22,265.64 L775.22,265.67 L776.22,265.70 L777.22,265.73 L778.22,265.75 L779.22,265.78 L780.22,265.81 L781.22,265.83 L782.22,265.86 L783.22,265.89 L784.22,265.91 L785.22,265.94 L786.22,265.97 L787.23,265.99 L788.23,266.02 L789.23,266.05 L790.23,266.07 L791.23,266.10 L792.23,266.12 L793.23,266.15 L794.23,266.17 L795.23,266.20 L796.23,266.22 L797.23,266.25 L798.23,266.27 L799.23,266.30 L800.23,266.32 L801.23,266.35 L802.23,266.37 L803.23,266.40 L804.23,266.42 L805.23,266.45 L806.23,266.47 L807.23,266.50 L808.23,266.52 L809.23,266.55 L810.23,266.57 L811.23,266.59 L812.23,266.62 L813.23,266.64 L814.23,266.67 L815.23,266.69 L816.23,266.71 L817.23,266.74 L818.23,266.76 L819.24,266.78 L820.24,266.81 L821.24,266.83 L822.24,266.85 L823.24,266.88 L824.24,266.90 L825.24,266.92 L826.24,266.95 L827.24,266.97 L828.24,266.99 L829.24,267.01 L830.24,267.04 L831.24,267.06 L832.24,267.08 L833.24,267.10 L834.24,267.13 L835.24,267.15 L836.24,267.17 L837.24,267.19 L838.24,267.22 L839.24,267.24 L840.24,267.26 L841.24,267.28 L842.24,267.31 L843.24,267.33 L844.24,267.35 L845.24,267.37 L846.24,267.39 L847.24,267.42 L848.24,267.44 L849.24,267.46 L850.24,267.48 L851.24,267.50 L852.25,267.53 L853.25,267.55 L854.25,267.57 L855.25,267.59 L856.25,267.61 L857.25,267.64 L858.25,267.66 L859.25,267.68 L860.25,267.70 L861.25,267.72 L862.25,267.74 L863.25,267.77 L864.25,267.79 L865.25,267.81 L866.25,267.83 L867.25,267.85 L868.25,267.87 L869.25,267.90 L870.25,267.92 L871.25,267.94 L872.25,267.96 L873.25,267.98 L874.25,268.00 L875.25,268.03 L876.25,268.05 L877.25,268.07 L878.25,268.09 L879.25,268.11 L880.25,268.13 L881.25,268.16 L882.25,268.18 L883.25,268.20 L884.25,268.22 L885.25,268.24 L886.25,268.26 L887.25,268.29 L888.25,268.31 L889.25,268.33 L890.25,268.35 L891.25,268.37 L892.25,268.39 L893.25,268.42 L894.25,268.44 L895.25,268.46 L896.25,268.48 L897.25,268.50 L898.25,268.53 L899.25,268.55 L900.25,268.57 L901.25,268.59 L902.25,268.62 L903.25,268.64 L904.25,268.66 L905.25,268.68 L906.25,268.70 L907.25,268.73 L908.25,268.75 L909.25,268.77 L910.25,268.79 L911.25,268.82 L912.25,268.84 L913.25,268.86 L914.25,268.89 L915.25,268.91 L916.25,268.93 L917.25,268.95 L918.25,268.98 L919.25,269.00 L920.25,269.02 L921.25,269.05 L922.24,269.07 L923.24,269.09 L924.24,269.12 L925.24,269.14 L926.24,269.16 L927.24,269.19 L928.24,269.21 L929.24,269.23 L930.24,269.26 L931.24,269.28 L932.24,269.31 L933.24,269.33 L934.24,269.35 L935.24,269.38 L936.24,269.40 L937.24,269.43 L938.24,269.45 L939.24,269.48 L940.24,269.50 L941.24,269.52 L942.23,269.55 L943.23,269.57 L944.23,269.60 L945.23,269.62 L946.23,269.65 L947.23,269.67 L948.23,269.70 L949.23,269.73 L950.23,269.75 L951.23,269.78 L952.23,269.80 L953.23,269.83 L954.23,269.85 L955.23,269.88 L956.22,269.91 L957.22,269.93 L958.22,269.96 L959.22,269.98 L960.22,270.01 L961.22,270.04 L962.22,270.06 L963.22,270.09 L964.22,270.12 L965.22,270.15 L966.21,270.17 L967.21,270.20 L968.21,270.23 L969.21,270.26 L970.21,270.28 L971.21,270.31 L972.21,270.34 L973.21,270.37 L974.21,270.40 L975.20,270.42 L976.20,270.45 L977.20,270.48 L978.20,270.51 L979.20,270.54 L980.20,270.57 L981.20,270.60 L982.20,270.63 L983.19,270.66 L984.19,270.69 L985.19,270.72 L986.19,270.75 L987.19,270.78 L988.19,270.81 L989.19,270.84 L990.18,270.87 L991.18,270.90 L992.18,270.93 L993.18,270.96 L994.18,270.99 L995.18,271.02 L996.17,271.05 L997.17,271.08 L998.17,271.12 L999.17,271.15 L1000.17,271.18 L1001.17,271.21 L1002.16,271.24 L1003.16,271.28 L1004.16,271.31 L1005.16,271.34 L1006.16,271.38 L1007.15,271.41 L1008.15,271.44 L1009.15,271.48 L1010.15,271.51 L1011.15,271.54 L1012.14,271.58 L1013.14,271.61 L1014.14,271.65 L1015.14,271.68 L1016.14,271.72 L1017.13,271.75 L1018.13,271.79 L1019.13,271.82 L1020.13,271.86 L1021.13,271.89 L1022.12,271.93 L1023.12,271.97 L1023.97,272.00" fill="none" stroke="#141414" stroke-width="5.2" stroke-dasharray="22 28.05" stroke-dashoffset="-1.07"/>
<path d="M106.59,609.31 L107.21,609.97 L107.84,610.63 L108.51,611.28 L109.19,611.94 L109.90,612.59 L110.63,613.24 L111.38,613.89 L112.15,614.53 L112.93,615.16 L113.74,615.78 L114.57,616.40 L115.41,617.00 L116.27,617.59 L117.14,618.17 L118.03,618.73 L118.93,619.28 L119.84,619.82 L120.77,620.33 L121.70,620.83 L122.65,621.31 L123.61,621.77 L124.57,622.20 L125.54,622.62 L126.52,623.00 L127.50,623.37 L128.49,623.70 L129.47,624.01 L130.46,624.29 L131.45,624.55 L132.44,624.77 L133.42,624.95 L134.41,625.11 L135.38,625.23 L136.35,625.31 L137.32,625.36 L138.27,625.37 L139.22,625.35 L140.16,625.29 L141.10,625.19 L142.02,625.06 L142.94,624.90 L143.85,624.71 L144.75,624.48 L145.65,624.23 L146.54,623.95 L147.43,623.64 L148.30,623.30 L149.18,622.94 L150.04,622.56 L150.90,622.15 L151.75,621.71 L152.60,621.26 L153.45,620.79 L154.28,620.29 L155.12,619.78 L155.94,619.25 L156.77,618.70 L157.58,618.14 L158.40,617.57 L159.21,616.98 L160.01,616.37 L160.82,615.76 L161.61,615.14 L162.41,614.50 L163.20,613.86 L163.99,613.21 L164.77,612.56 L165.55,611.90 L166.33,611.23 L167.11,610.57 L167.88,609.90 L168.65,609.22 L169.42,608.55 L170.19,607.87 L170.95,607.20 L171.71,606.52 L172.47,605.84 L173.23,605.16 L173.99,604.48 L174.74,603.80 L175.49,603.11 L176.24,602.43 L176.99,601.74 L177.74,601.05 L178.48,600.37 L179.22,599.68 L179.97,598.99 L180.71,598.29 L181.44,597.60 L182.18,596.91 L182.92,596.22 L183.65,595.52 L184.38,594.83 L185.12,594.13 L185.85,593.44 L186.57,592.74 L187.30,592.04 L188.03,591.35 L188.75,590.65 L189.48,589.95 L190.20,589.25 L190.93,588.55 L191.65,587.86 L192.37,587.16 L193.09,586.46 L193.81,585.76 L194.53,585.06 L195.25,584.36 L195.97,583.66 L196.68,582.96 L197.40,582.26 L198.12,581.56 L198.83,580.86 L199.55,580.17 L200.27,579.47 L200.98,578.77 L201.70,578.07 L202.41,577.38 L203.13,576.68 L203.84,575.98 L204.56,575.29 L205.27,574.59 L205.99,573.90 L206.71,573.20 L207.42,572.51 L208.14,571.82 L208.85,571.13 L209.57,570.44 L210.29,569.75 L211.01,569.06 L211.73,568.37 L212.44,567.68 L213.16,567.00 L213.88,566.31 L214.61,565.63 L215.33,564.95 L216.05,564.27 L216.77,563.59 L217.50,562.91 L218.22,562.23 L218.95,561.56 L219.68,560.88 L220.41,560.21 L221.14,559.54 L221.87,558.87 L222.60,558.20 L223.33,557.54 L224.07,556.87 L224.81,556.21 L225.54,555.55 L226.28,554.89 L227.02,554.23 L227.77,553.57 L228.51,552.92 L229.26,552.27 L230.01,551.62 L230.75,550.97 L231.51,550.33 L232.26,549.68 L233.01,549.04 L233.77,548.40 L234.53,547.77 L235.29,547.13 L236.06,546.50 L236.82,545.87 L237.59,545.25 L238.36,544.62 L239.13,544.00 L239.91,543.38 L240.69,542.76 L241.47,542.15 L242.25,541.54 L243.03,540.93 L243.82,540.33 L244.61,539.72 L245.41,539.12 L246.20,538.53 L247.00,537.93 L247.80,537.34 L248.60,536.75 L249.41,536.16 L250.21,535.58 L251.02,535.00 L251.83,534.42 L252.65,533.84 L253.46,533.27 L254.28,532.70 L255.10,532.13 L255.92,531.56 L256.75,531.00 L257.58,530.44 L258.41,529.88 L259.24,529.32 L260.07,528.77 L260.91,528.22 L261.74,527.67 L262.58,527.12 L263.42,526.58 L264.27,526.04 L265.11,525.50 L265.96,524.96 L266.81,524.43 L267.66,523.90 L268.51,523.37 L269.36,522.84 L270.22,522.32 L271.08,521.80 L271.94,521.28 L272.80,520.76 L273.66,520.25 L274.53,519.74 L275.39,519.23 L276.26,518.72 L277.13,518.21 L278.00,517.71 L278.87,517.21 L279.75,516.71 L280.62,516.22 L281.50,515.72 L282.38,515.23 L283.26,514.74 L284.14,514.25 L285.02,513.77 L285.91,513.29 L286.79,512.81 L287.68,512.33 L288.57,511.85 L289.45,511.38 L290.35,510.91 L291.24,510.44 L292.13,509.97 L293.02,509.50 L293.92,509.04 L294.81,508.58 L295.71,508.12 L296.61,507.66 L297.51,507.21 L298.41,506.76 L299.31,506.31 L300.21,505.86 L301.12,505.41 L302.02,504.97 L302.93,504.52 L303.83,504.08 L304.74,503.65 L305.65,503.21 L306.56,502.77 L307.47,502.34 L308.38,501.91 L309.29,501.48 L310.20,501.06 L311.11,500.63 L312.03,500.21 L312.94,499.79 L313.85,499.37 L314.77,498.95 L315.68,498.54 L316.60,498.12 L317.52,497.71 L318.43,497.30 L319.35,496.89 L320.27,496.49 L321.19,496.08 L322.11,495.68 L323.03,495.28 L323.95,494.88 L324.87,494.49 L325.79,494.09 L326.71,493.70 L327.63,493.31 L328.55,492.92 L329.48,492.53 L330.40,492.14 L331.32,491.76 L332.25,491.37 L333.17,490.99 L334.10,490.61 L335.02,490.23 L335.95,489.86 L336.88,489.48 L337.80,489.11 L338.73,488.74 L339.66,488.37 L340.59,488.00 L341.51,487.63 L342.44,487.27 L343.37,486.90 L344.30,486.54 L345.23,486.18 L346.16,485.82 L347.09,485.46 L348.03,485.11 L348.96,484.75 L349.89,484.40 L350.82,484.05 L351.76,483.70 L352.69,483.35 L353.62,483.00 L354.56,482.66 L355.49,482.31 L356.43,481.97 L357.36,481.63 L358.30,481.29 L359.24,480.95 L360.17,480.61 L361.11,480.28 L362.05,479.94 L362.99,479.61 L363.92,479.27 L364.86,478.94 L365.80,478.61 L366.74,478.29 L367.68,477.96 L368.62,477.63 L369.56,477.31 L370.50,476.99 L371.45,476.66 L372.39,476.34 L373.33,476.02 L374.27,475.71 L375.22,475.39 L376.16,475.07 L377.10,474.76 L378.05,474.44 L378.99,474.13 L379.94,473.82 L380.88,473.51 L381.83,473.20 L382.77,472.89 L383.72,472.58 L384.67,472.28 L385.61,471.97 L386.56,471.67 L387.51,471.37 L388.46,471.07 L389.40,470.77 L390.35,470.47 L391.30,470.17 L392.25,469.87 L393.20,469.57 L394.15,469.28 L395.10,468.98 L396.05,468.69 L397.00,468.40 L397.96,468.10 L398.91,467.81 L399.86,467.52 L400.81,467.23 L401.76,466.94 L402.72,466.66 L403.67,466.37 L404.62,466.09 L405.58,465.80 L406.53,465.52 L407.49,465.23 L408.44,464.95 L409.40,464.67 L410.35,464.39 L411.31,464.11 L412.27,463.83 L413.22,463.55 L414.18,463.27 L415.14,462.99 L416.09,462.72 L417.05,462.44 L418.01,462.17 L418.97,461.89 L419.93,461.62 L420.89,461.35 L421.84,461.07 L422.80,460.80 L423.76,460.53 L424.72,460.26 L425.68,459.99 L426.65,459.72 L427.61,459.45 L428.57,459.19 L429.53,458.92 L430.49,458.65 L431.45,458.39 L432.42,458.12 L433.38,457.86 L434.34,457.59 L435.30,457.33 L436.27,457.07 L437.23,456.81 L438.20,456.55 L439.16,456.28 L440.12,456.02 L441.09,455.77 L442.05,455.51 L443.02,455.25 L443.98,454.99 L444.95,454.73 L445.92,454.48 L446.88,454.22 L447.85,453.97 L448.82,453.71 L449.78,453.46 L450.75,453.21 L451.72,452.96 L452.68,452.70 L453.65,452.45 L454.62,452.20 L455.59,451.95 L456.56,451.70 L457.53,451.45 L458.50,451.21 L459.47,450.96 L460.43,450.71 L461.40,450.47 L462.37,450.22 L463.34,449.98 L464.32,449.73 L465.29,449.49 L466.26,449.24 L467.23,449.00 L468.20,448.76 L469.17,448.52 L470.14,448.28 L471.11,448.04 L472.09,447.80 L473.06,447.56 L474.03,447.32 L475.00,447.08 L475.98,446.85 L476.95,446.61 L477.92,446.37 L478.90,446.14 L479.87,445.90 L480.84,445.67 L481.82,445.44 L482.79,445.20 L483.77,444.97 L484.74,444.74 L485.72,444.51 L486.69,444.28 L487.67,444.05 L488.64,443.82 L489.62,443.59 L490.59,443.36 L491.57,443.13 L492.55,442.90 L493.52,442.68 L494.50,442.45 L495.47,442.23 L496.45,442.00 L497.43,441.78 L498.41,441.55 L499.38,441.33 L500.36,441.11 L501.34,440.89 L502.32,440.66 L503.29,440.44 L504.27,440.22 L505.25,440.00 L506.23,439.78 L507.21,439.56 L508.18,439.35 L509.16,439.13 L510.14,438.91 L511.12,438.70 L512.10,438.48 L513.08,438.26 L514.06,438.05 L515.04,437.83 L516.02,437.62 L517.00,437.41 L517.98,437.19 L518.96,436.98 L519.94,436.77 L520.92,436.56 L521.90,436.35 L522.88,436.14 L523.86,435.93 L524.84,435.72 L525.82,435.51 L526.80,435.30 L527.78,435.10 L528.77,434.89 L529.75,434.68 L530.73,434.48 L531.71,434.27 L532.69,434.07 L533.67,433.86 L534.66,433.66 L535.64,433.46 L536.62,433.25 L537.60,433.05 L538.58,432.85 L539.57,432.65 L540.55,432.45 L541.53,432.25 L542.51,432.05 L543.50,431.85 L544.48,431.65 L545.46,431.45 L546.44,431.25 L547.43,431.06 L548.41,430.86 L549.39,430.66 L550.38,430.47 L551.36,430.27 L552.34,430.08 L553.33,429.88 L554.31,429.69 L555.29,429.50 L556.28,429.31 L557.26,429.11 L558.25,428.92 L559.23,428.73 L560.21,428.54 L561.20,428.35 L562.18,428.16 L563.17,427.97 L564.15,427.78 L565.13,427.59 L566.12,427.41 L567.10,427.22 L568.09,427.03 L569.07,426.84 L570.05,426.66 L571.04,426.47 L572.02,426.29 L573.01,426.10 L573.99,425.92 L574.98,425.74 L575.96,425.55 L576.95,425.37 L577.93,425.19 L578.92,425.01 L579.90,424.82 L580.89,424.64 L581.87,424.46 L582.85,424.28 L583.84,424.10 L584.82,423.93 L585.81,423.75 L586.79,423.57 L587.78,423.39 L588.76,423.21 L589.75,423.04 L590.74,422.86 L591.72,422.68 L592.71,422.51 L593.69,422.33 L594.68,422.16 L595.66,421.99 L596.65,421.81 L597.63,421.64 L598.62,421.47 L599.60,421.29 L600.59,421.12 L601.57,420.95 L602.56,420.78 L603.55,420.61 L604.53,420.44 L605.52,420.27 L606.50,420.10 L607.49,419.93 L608.47,419.76 L609.46,419.59 L610.45,419.42 L611.43,419.25 L612.42,419.09 L613.40,418.92 L614.39,418.75 L615.38,418.59 L616.36,418.42 L617.35,418.26 L618.33,418.09 L619.32,417.93 L620.31,417.76 L621.29,417.60 L622.28,417.44 L623.27,417.28 L624.25,417.11 L625.24,416.95 L626.23,416.79 L627.21,416.63 L628.20,416.47 L629.19,416.31 L630.17,416.15 L631.16,415.99 L632.15,415.83 L633.13,415.67 L634.12,415.51 L635.11,415.35 L636.09,415.19 L637.08,415.03 L638.07,414.88 L639.05,414.72 L640.04,414.56 L641.03,414.41 L642.01,414.25 L643.00,414.10 L643.99,413.94 L644.98,413.79 L645.96,413.63 L646.95,413.48 L647.94,413.32 L648.93,413.17 L649.91,413.02 L650.90,412.86 L651.89,412.71 L652.88,412.56 L653.86,412.41 L654.85,412.26 L655.84,412.10 L656.83,411.95 L657.81,411.80 L658.80,411.65 L659.79,411.50 L660.78,411.35 L661.76,411.20 L662.75,411.06 L663.74,410.91 L664.73,410.76 L665.72,410.61 L666.70,410.46 L667.69,410.32 L668.68,410.17 L669.67,410.02 L670.66,409.88 L671.64,409.73 L672.63,409.58 L673.62,409.44 L674.61,409.29 L675.60,409.15 L676.58,409.00 L677.57,408.86 L678.56,408.71 L679.55,408.57 L680.54,408.43 L681.53,408.28 L682.52,408.14 L683.50,408.00 L684.49,407.86 L685.48,407.71 L686.47,407.57 L687.46,407.43 L688.45,407.29 L689.44,407.15 L690.42,407.01 L691.41,406.87 L692.40,406.73 L693.39,406.59 L694.38,406.45 L695.37,406.31 L696.36,406.17 L697.35,406.03 L698.34,405.89 L699.32,405.75 L700.31,405.61 L701.30,405.48 L702.29,405.34 L703.28,405.20 L704.27,405.06 L705.26,404.93 L706.25,404.79 L707.24,404.65 L708.23,404.52 L709.22,404.38 L710.21,404.24 L711.20,404.11 L712.19,403.97 L713.18,403.84 L714.16,403.70 L715.15,403.57 L716.14,403.43 L717.13,403.30 L718.12,403.17 L719.11,403.03 L720.10,402.90 L721.09,402.77 L722.08,402.63 L723.07,402.50 L724.06,402.37 L725.05,402.24 L726.04,402.10 L727.03,401.97 L728.02,401.84 L729.01,401.71 L730.00,401.58 L730.99,401.44 L731.98,401.31 L732.97,401.18 L733.96,401.05 L734.95,400.92 L735.94,400.79 L736.93,400.66 L737.92,400.53 L738.91,400.40 L739.90,400.27 L740.89,400.14 L741.89,400.01 L742.88,399.88 L743.87,399.76 L744.86,399.63 L745.85,399.50 L746.84,399.37 L747.83,399.24 L748.82,399.11 L749.81,398.99 L750.80,398.86 L751.79,398.73 L752.78,398.60 L753.77,398.48 L754.76,398.35 L755.75,398.22 L756.75,398.10 L757.74,397.97 L758.73,397.84 L759.72,397.72 L760.71,397.59 L761.70,397.47 L762.69,397.34 L763.68,397.21 L764.67,397.09 L765.66,396.96 L766.66,396.84 L767.65,396.71 L768.64,396.59 L769.63,396.46 L770.62,396.34 L771.61,396.21 L772.60,396.09 L773.60,395.96 L774.59,395.84 L775.58,395.72 L776.57,395.59 L777.56,395.47 L778.55,395.35 L779.54,395.22 L780.54,395.10 L781.53,394.97 L782.52,394.85 L783.51,394.73 L784.50,394.61 L785.49,394.48 L786.49,394.36 L787.48,394.24 L788.47,394.11 L789.46,393.99 L790.45,393.87 L791.45,393.75 L792.44,393.63 L793.43,393.50 L794.42,393.38 L795.41,393.26 L796.41,393.14 L797.40,393.02 L798.39,392.89 L799.38,392.77 L800.37,392.65 L801.37,392.53 L802.36,392.41 L803.35,392.29 L804.34,392.17 L805.34,392.04 L806.33,391.92 L807.32,391.80 L808.31,391.68 L809.31,391.56 L810.30,391.44 L811.29,391.32 L812.28,391.20 L813.28,391.08 L814.27,390.96 L815.26,390.84 L816.25,390.72 L817.25,390.60 L818.24,390.48 L819.23,390.36 L820.22,390.24 L821.22,390.12 L822.21,390.00 L823.20,389.88 L824.20,389.76 L825.19,389.64 L826.18,389.52 L827.17,389.40 L828.17,389.29 L829.16,389.17 L830.15,389.05 L831.15,388.93 L832.14,388.81 L833.13,388.69 L834.12,388.58 L835.12,388.46 L836.11,388.34 L837.10,388.22 L838.10,388.10 L839.09,387.99 L840.08,387.87 L841.08,387.75 L842.07,387.64 L843.06,387.52 L844.06,387.40 L845.05,387.29 L846.04,387.17 L847.04,387.05 L848.03,386.94 L849.02,386.82 L850.02,386.70 L851.01,386.59 L852.01,386.47 L853.00,386.36 L853.99,386.24 L854.99,386.13 L855.98,386.01 L856.97,385.90 L857.97,385.78 L858.96,385.67 L859.96,385.55 L860.95,385.44 L861.94,385.33 L862.94,385.21 L863.93,385.10 L864.92,384.99 L865.92,384.87 L866.91,384.76 L867.91,384.65 L868.90,384.53 L869.89,384.42 L870.89,384.31 L871.88,384.20 L872.88,384.08 L873.87,383.97 L874.87,383.86 L875.86,383.75 L876.85,383.64 L877.85,383.53 L878.84,383.41 L879.84,383.30 L880.83,383.19 L881.82,383.08 L882.82,382.97 L883.81,382.86 L884.81,382.75 L885.80,382.64 L886.80,382.53 L887.79,382.42 L888.79,382.32 L889.78,382.21 L890.78,382.10 L891.77,381.99 L892.76,381.88 L893.76,381.77 L894.75,381.66 L895.75,381.56 L896.74,381.45 L897.74,381.34 L898.73,381.24 L899.73,381.13 L900.72,381.02 L901.72,380.92 L902.71,380.81 L903.71,380.70 L904.70,380.60 L905.70,380.49 L906.69,380.39 L907.69,380.28 L908.68,380.18 L909.68,380.07 L910.67,379.97 L911.67,379.86 L912.66,379.76 L913.66,379.66 L914.65,379.55 L915.65,379.45 L916.64,379.35 L917.64,379.24 L918.63,379.14 L919.63,379.04 L920.62,378.94 L921.62,378.84 L922.61,378.73 L923.61,378.63 L924.60,378.53 L925.60,378.43 L926.59,378.33 L927.59,378.23 L928.59,378.13 L929.58,378.03 L930.58,377.93 L931.57,377.83 L932.57,377.73 L933.56,377.63 L934.56,377.53 L935.55,377.44 L936.55,377.34 L937.55,377.24 L938.54,377.14 L939.54,377.05 L940.53,376.95 L941.53,376.85 L942.52,376.76 L943.52,376.66 L944.52,376.56 L945.51,376.47 L946.51,376.37 L947.50,376.28 L948.50,376.18 L949.49,376.09 L950.49,376.00 L951.49,375.90 L952.48,375.81 L953.48,375.71 L954.47,375.62 L955.47,375.53 L956.47,375.44 L957.46,375.34 L958.46,375.25 L959.45,375.16 L960.45,375.07 L961.45,374.98 L962.44,374.89 L963.44,374.80 L964.44,374.71 L965.43,374.62 L966.43,374.53 L967.42,374.44 L968.42,374.35 L969.42,374.26 L970.41,374.17 L971.41,374.09 L972.41,374.00 L973.40,373.91 L974.40,373.82 L975.40,373.74 L976.39,373.65 L977.39,373.56 L978.38,373.48 L979.38,373.39 L980.38,373.31 L981.37,373.22 L982.37,373.14 L983.37,373.06 L984.36,372.97 L985.36,372.89 L986.36,372.81 L987.35,372.72 L988.35,372.64 L989.35,372.56 L990.34,372.48 L991.34,372.39 L992.34,372.31 L993.33,372.23 L994.33,372.15 L995.33,372.07 L996.32,371.99 L997.32,371.91 L998.32,371.83 L999.32,371.76 L1000.31,371.68 L1001.31,371.60 L1002.31,371.52 L1003.30,371.44 L1004.30,371.37 L1005.30,371.29 L1006.29,371.21 L1007.29,371.14 L1008.29,371.06 L1009.29,370.99 L1010.28,370.91 L1011.28,370.84 L1012.28,370.77 L1013.27,370.69 L1014.27,370.62 L1015.27,370.55 L1016.27,370.47 L1017.26,370.40 L1018.26,370.33 L1019.26,370.26 L1020.25,370.19 L1021.25,370.12 L1022.25,370.05 L1023.25,369.98 L1024.24,369.91 L1025.01,369.85" fill="none" stroke="#e2302a" stroke-width="5.2"/>
<path d="M107.19,609.19 L107.24,608.20 L107.30,607.21 L107.35,606.22 L107.40,605.23 L107.45,604.24 L107.51,603.25 L107.56,602.26 L107.61,601.27 L107.67,600.27 L107.72,599.28 L107.78,598.29 L107.83,597.30 L107.89,596.31 L107.94,595.31 L108.00,594.32 L108.05,593.33 L108.11,592.34 L108.16,591.34 L108.22,590.35 L108.28,589.36 L108.33,588.37 L108.39,587.37 L108.45,586.38 L108.50,585.39 L108.56,584.39 L108.62,583.40 L108.68,582.40 L108.74,581.41 L108.79,580.42 L108.85,579.42 L108.91,578.43 L108.97,577.43 L109.03,576.44 L109.09,575.44 L109.15,574.45 L109.21,573.46 L109.27,572.46 L109.33,571.47 L109.39,570.47 L109.45,569.48 L109.52,568.48 L109.58,567.48 L109.64,566.49 L109.70,565.49 L109.76,564.50 L109.83,563.50 L109.89,562.51 L109.95,561.51 L110.01,560.51 L110.08,559.52 L110.14,558.52 L110.20,557.52 L110.27,556.53 L110.33,555.53 L110.40,554.53 L110.46,553.54 L110.53,552.54 L110.59,551.54 L110.66,550.55 L110.72,549.55 L110.79,548.55 L110.86,547.56 L110.92,546.56 L110.99,545.56 L111.06,544.56 L111.12,543.57 L111.19,542.57 L111.26,541.57 L111.33,540.57 L111.39,539.58 L111.46,538.58 L111.53,537.58 L111.60,536.58 L111.67,535.58 L111.74,534.59 L111.81,533.59 L111.88,532.59 L111.95,531.59 L112.02,530.59 L112.09,529.59 L112.16,528.60 L112.23,527.60 L112.30,526.60 L112.37,525.60 L112.44,524.60 L112.51,523.60 L112.59,522.60 L112.66,521.60 L112.73,520.61 L112.80,519.61 L112.88,518.61 L112.95,517.61 L113.02,516.61 L113.10,515.61 L113.17,514.61 L113.24,513.61 L113.32,512.61 L113.39,511.61 L113.47,510.61 L113.54,509.61 L113.62,508.61 L113.69,507.62 L113.77,506.62 L113.84,505.62 L113.92,504.62 L114.00,503.62 L114.07,502.62 L114.15,501.62 L114.23,500.62 L114.30,499.62 L114.38,498.62 L114.46,497.62 L114.54,496.62 L114.62,495.62 L114.69,494.62 L114.77,493.62 L114.85,492.62 L114.93,491.62 L115.01,490.62 L115.09,489.62 L115.17,488.62 L115.25,487.62 L115.33,486.62 L115.41,485.62 L115.49,484.62 L115.57,483.62 L115.65,482.62 L115.73,481.62 L115.82,480.62 L115.90,479.62 L115.98,478.62 L116.06,477.62 L116.14,476.62 L116.23,475.62 L116.31,474.62 L116.39,473.62 L116.48,472.62 L116.56,471.62 L116.64,470.63 L116.73,469.63 L116.81,468.63 L116.90,467.63 L116.98,466.63 L117.07,465.63 L117.15,464.63 L117.24,463.63 L117.32,462.63 L117.41,461.63 L117.50,460.63 L117.58,459.63 L117.67,458.63 L117.76,457.63 L117.84,456.63 L117.93,455.63 L118.02,454.63 L118.11,453.63 L118.19,452.63 L118.28,451.63 L118.37,450.63 L118.46,449.63 L118.55,448.63 L118.64,447.64 L118.73,446.64 L118.82,445.64 L118.91,444.64 L119.00,443.64 L119.09,442.64 L119.18,441.64 L119.27,440.64 L119.36,439.64 L119.45,438.64 L119.54,437.65 L119.64,436.65 L119.73,435.65 L119.82,434.65 L119.91,433.65 L120.00,432.65 L120.10,431.65 L120.19,430.66 L120.28,429.66 L120.38,428.66 L120.47,427.66 L120.57,426.66 L120.66,425.66 L120.75,424.67 L120.85,423.67 L120.94,422.67 L121.04,421.67 L121.13,420.68 L121.23,419.68 L121.33,418.68 L121.42,417.68 L121.52,416.69 L121.62,415.69 L121.71,414.69 L121.81,413.69 L121.91,412.70 L122.00,411.70 L122.10,410.70 L122.20,409.71 L122.30,408.71 L122.40,407.71 L122.49,406.71 L122.59,405.72 L122.69,404.72 L122.79,403.73 L122.89,402.73 L122.99,401.73 L123.09,400.74 L123.19,399.74 L123.29,398.74 L123.39,397.75 L123.49,396.75 L123.59,395.76 L123.70,394.76 L123.80,393.77 L123.90,392.77 L124.00,391.78 L124.10,390.78 L124.21,389.79 L124.31,388.79 L124.41,387.80 L124.51,386.80 L124.62,385.81 L124.72,384.81 L124.83,383.82 L124.93,382.82 L125.03,381.83 L125.14,380.84 L125.24,379.84 L125.35,378.85 L125.45,377.85 L125.56,376.86 L125.67,375.87 L125.77,374.87 L125.88,373.88 L125.98,372.89 L126.09,371.89 L126.20,370.90 L126.30,369.91 L126.41,368.92 L126.52,367.92 L126.63,366.93 L126.73,365.94 L126.84,364.95 L126.95,363.96 L127.06,362.96 L127.17,361.97 L127.28,360.98 L127.39,359.99 L127.50,359.00 L127.61,358.01 L127.72,357.02 L127.83,356.03 L127.94,355.04 L128.05,354.04 L128.16,353.05 L128.27,352.06 L128.38,351.07 L128.49,350.08 L128.61,349.09 L128.72,348.11 L128.83,347.12 L128.94,346.13 L129.06,345.14 L129.17,344.15 L129.28,343.16 L129.39,342.17 L129.51,341.18 L129.62,340.19 L129.74,339.21 L129.85,338.22 L129.97,337.23 L130.08,336.24 L130.20,335.26 L130.31,334.27 L130.43,333.28 L130.54,332.29 L130.66,331.31 L130.77,330.32 L130.89,329.33 L131.01,328.35 L131.12,327.36 L131.24,326.38 L131.36,325.39 L131.48,324.40 L131.59,323.42 L131.71,322.43 L131.83,321.45 L131.95,320.46 L132.07,319.48 L132.19,318.49 L132.31,317.51 L132.43,316.53 L132.56,315.54 L132.68,314.56 L132.80,313.57 L132.93,312.59 L133.05,311.60 L133.17,310.62 L133.30,309.64 L133.43,308.65 L133.55,307.67 L133.68,306.69 L133.81,305.70 L133.94,304.72 L134.07,303.74 L134.20,302.75 L134.33,301.77 L134.46,300.79 L134.60,299.80 L134.73,298.82 L134.87,297.84 L135.00,296.85 L135.14,295.87 L135.28,294.89 L135.42,293.91 L135.56,292.92 L135.70,291.94 L135.84,290.96 L135.99,289.97 L136.13,288.99 L136.28,288.01 L136.42,287.03 L136.57,286.04 L136.72,285.06 L136.87,284.08 L137.03,283.09 L137.18,282.11 L137.33,281.13 L137.49,280.14 L137.65,279.16 L137.81,278.18 L137.97,277.20 L138.13,276.21 L138.29,275.23 L138.46,274.25 L138.62,273.26 L138.79,272.28 L138.96,271.29 L139.13,270.31 L139.30,269.33 L139.48,268.34 L139.65,267.36 L139.83,266.38 L140.01,265.39 L140.19,264.41 L140.37,263.42 L140.56,262.44 L140.74,261.45 L140.93,260.47 L141.12,259.48 L141.31,258.50 L141.51,257.51 L141.70,256.53 L141.90,255.54 L142.10,254.56 L142.30,253.57 L142.50,252.59 L142.71,251.60 L142.91,250.61 L143.12,249.63 L143.33,248.64 L143.54,247.65 L143.74,246.67 L143.95,245.68 L144.16,244.69 L144.37,243.71 L144.58,242.72 L144.79,241.73 L145.00,240.74 L145.21,239.75 L145.42,238.76 L145.62,237.78 L145.83,236.79 L146.03,235.80 L146.23,234.81 L146.43,233.82 L146.63,232.83 L146.82,231.84 L147.01,230.85 L147.20,229.86 L147.39,228.87 L147.57,227.87 L147.75,226.88 L147.92,225.89 L148.09,224.90 L148.26,223.91 L148.43,222.91 L148.59,221.92 L148.75,220.93 L148.91,219.93 L149.07,218.94 L149.22,217.95 L149.37,216.95 L149.53,215.96 L149.68,214.96 L149.82,213.96 L149.97,212.97 L150.12,211.97 L150.27,210.98 L150.41,209.98 L150.56,208.98 L150.70,207.98 L150.85,206.99 L151.00,205.99 L151.15,204.99 L151.30,203.99 L151.45,202.99 L151.60,201.99 L151.75,200.99 L151.91,199.99 L152.07,198.99 L152.23,197.99 L152.39,196.99 L152.56,195.98 L152.72,194.98 L152.90,193.98 L153.07,192.98 L153.25,191.97 L153.43,190.97 L153.62,189.97 L153.81,188.97 L154.00,187.96 L154.20,186.96 L154.40,185.96 L154.61,184.96 L154.82,183.97 L155.04,182.97 L155.26,181.98 L155.48,180.98 L155.72,179.99 L155.95,179.00 L156.20,178.01 L156.45,177.03 L156.70,176.04 L156.96,175.06 L157.23,174.08 L157.50,173.11 L157.78,172.14 L158.07,171.17 L158.37,170.20 L158.67,169.24 L158.98,168.28 L159.29,167.32 L159.61,166.37 L159.95,165.42 L160.28,164.48 L160.63,163.54 L160.99,162.60 L161.35,161.67 L161.72,160.75 L162.10,159.82 L162.49,158.91 L162.89,158.00 L163.30,157.09 L163.72,156.19 L164.14,155.29 L164.58,154.40 L165.02,153.52 L165.48,152.64 L165.95,151.77 L166.43,150.91 L166.92,150.05 L167.43,149.21 L167.95,148.38 L168.49,147.57 L169.05,146.77 L169.63,145.98 L170.23,145.21 L170.85,144.47 L171.50,143.74 L172.17,143.03 L172.86,142.34 L173.58,141.68 L174.34,141.05 L175.12,140.44 L175.92,139.86 L176.75,139.31 L177.59,138.78 L178.46,138.29 L179.34,137.84 L180.23,137.41 L181.13,137.03 L182.04,136.68 L182.96,136.36 L183.88,136.09 L184.80,135.86 L185.72,135.67 L186.63,135.52 L187.54,135.42 L188.45,135.36 L189.34,135.34 L190.23,135.37 L191.11,135.44 L191.99,135.54 L192.86,135.68 L193.72,135.86 L194.58,136.08 L195.43,136.33 L196.28,136.62 L197.12,136.93 L197.96,137.28 L198.79,137.66 L199.62,138.07 L200.44,138.50 L201.26,138.96 L202.07,139.45 L202.88,139.96 L203.68,140.50 L204.48,141.05 L205.28,141.63 L206.07,142.23 L206.86,142.84 L207.64,143.47 L208.43,144.12 L209.20,144.79 L209.98,145.46 L210.75,146.15 L211.52,146.86 L212.29,147.57 L213.06,148.29 L213.82,149.02 L214.58,149.76 L215.34,150.50 L216.10,151.25 L216.85,152.00 L217.61,152.75 L218.36,153.50 L219.11,154.26 L219.86,155.01 L220.61,155.76 L221.36,156.51 L222.10,157.25 L222.85,157.99 L223.60,158.72 L224.34,159.45 L225.09,160.17 L225.84,160.89 L226.58,161.60 L227.33,162.31 L228.08,163.01 L228.82,163.71 L229.57,164.40 L230.32,165.09 L231.06,165.77 L231.81,166.45 L232.56,167.12 L233.31,167.79 L234.06,168.46 L234.82,169.12 L235.57,169.77 L236.32,170.42 L237.08,171.07 L237.84,171.72 L238.60,172.35 L239.36,172.99 L240.12,173.62 L240.88,174.25 L241.65,174.87 L242.42,175.49 L243.19,176.10 L243.96,176.71 L244.74,177.32 L245.52,177.92 L246.30,178.52 L247.08,179.12 L247.87,179.71 L248.65,180.30 L249.45,180.88 L250.24,181.46 L251.04,182.04 L251.84,182.62 L252.64,183.19 L253.45,183.76 L254.26,184.32 L255.07,184.88 L255.89,185.44 L256.71,185.99 L257.53,186.54 L258.35,187.09 L259.18,187.64 L260.00,188.18 L260.84,188.71 L261.67,189.25 L262.51,189.78 L263.35,190.30 L264.19,190.83 L265.03,191.35 L265.88,191.87 L266.73,192.38 L267.58,192.89 L268.44,193.40 L269.29,193.90 L270.15,194.41 L271.02,194.90 L271.88,195.40 L272.75,195.89 L273.61,196.38 L274.49,196.87 L275.36,197.35 L276.23,197.83 L277.11,198.30 L277.99,198.78 L278.87,199.25 L279.76,199.71 L280.64,200.18 L281.53,200.64 L282.42,201.09 L283.31,201.55 L284.20,202.00 L285.10,202.45 L286.00,202.90 L286.90,203.34 L287.80,203.78 L288.70,204.21 L289.61,204.65 L290.51,205.08 L291.42,205.51 L292.33,205.93 L293.24,206.35 L294.16,206.77 L295.07,207.19 L295.99,207.60 L296.90,208.01 L297.82,208.42 L298.75,208.83 L299.67,209.23 L300.59,209.63 L301.52,210.02 L302.44,210.42 L303.37,210.81 L304.30,211.20 L305.23,211.58 L306.16,211.96 L307.10,212.34 L308.03,212.72 L308.97,213.10 L309.91,213.47 L310.84,213.84 L311.78,214.20 L312.72,214.57 L313.67,214.93 L314.61,215.29 L315.55,215.64 L316.50,216.00 L317.44,216.35 L318.39,216.69 L319.34,217.04 L320.28,217.38 L321.23,217.72 L322.18,218.06 L323.13,218.40 L324.09,218.73 L325.04,219.06 L325.99,219.39 L326.95,219.71 L327.90,220.04 L328.85,220.36 L329.81,220.67 L330.77,220.99 L331.72,221.30 L332.68,221.61 L333.64,221.92 L334.60,222.23 L335.56,222.53 L336.52,222.83 L337.47,223.13 L338.43,223.43 L339.40,223.72 L340.36,224.01 L341.32,224.30 L342.28,224.59 L343.24,224.87 L344.20,225.16 L345.16,225.44 L346.13,225.72 L347.09,225.99 L348.05,226.27 L349.02,226.54 L349.98,226.81 L350.95,227.07 L351.91,227.34 L352.88,227.60 L353.84,227.86 L354.81,228.12 L355.77,228.38 L356.74,228.63 L357.71,228.89 L358.67,229.14 L359.64,229.38 L360.61,229.63 L361.58,229.88 L362.55,230.12 L363.52,230.36 L364.48,230.60 L365.45,230.83 L366.42,231.07 L367.39,231.30 L368.36,231.53 L369.33,231.76 L370.31,231.99 L371.28,232.21 L372.25,232.44 L373.22,232.66 L374.19,232.88 L375.16,233.10 L376.14,233.31 L377.11,233.53 L378.08,233.74 L379.06,233.95 L380.03,234.16 L381.00,234.37 L381.98,234.58 L382.95,234.78 L383.93,234.98 L384.90,235.18 L385.88,235.38 L386.86,235.58 L387.83,235.78 L388.81,235.97 L389.78,236.16 L390.76,236.36 L391.74,236.55 L392.72,236.73 L393.69,236.92 L394.67,237.11 L395.65,237.29 L396.63,237.47 L397.61,237.65 L398.59,237.83 L399.57,238.01 L400.55,238.19 L401.52,238.36 L402.51,238.54 L403.49,238.71 L404.47,238.88 L405.45,239.05 L406.43,239.22 L407.41,239.38 L408.39,239.55 L409.37,239.71 L410.35,239.88 L411.34,240.04 L412.32,240.20 L413.30,240.36 L414.28,240.52 L415.27,240.67 L416.25,240.83 L417.24,240.99 L418.22,241.14 L419.20,241.29 L420.19,241.44 L421.17,241.59 L422.16,241.74 L423.14,241.89 L424.13,242.04 L425.11,242.18 L426.10,242.33 L427.08,242.47 L428.07,242.61 L429.06,242.76 L430.04,242.90 L431.03,243.04 L432.02,243.17 L433.00,243.31 L433.99,243.45 L434.98,243.59 L435.97,243.72 L436.95,243.86 L437.94,243.99 L438.93,244.12 L439.92,244.25 L440.91,244.38 L441.90,244.51 L442.89,244.64 L443.87,244.77 L444.86,244.90 L445.85,245.03 L446.84,245.15 L447.83,245.28 L448.82,245.40 L449.81,245.53 L450.80,245.65 L451.79,245.77 L452.79,245.90 L453.78,246.02 L454.77,246.14 L455.76,246.26 L456.75,246.38 L457.74,246.50 L458.73,246.62 L459.73,246.73 L460.72,246.85 L461.71,246.97 L462.70,247.08 L463.70,247.20 L464.69,247.31 L465.68,247.43 L466.67,247.54 L467.67,247.65 L468.66,247.76 L469.65,247.88 L470.65,247.99 L471.64,248.10 L472.64,248.21 L473.63,248.32 L474.62,248.42 L475.62,248.53 L476.61,248.64 L477.61,248.75 L478.60,248.85 L479.60,248.96 L480.59,249.06 L481.59,249.17 L482.58,249.27 L483.58,249.38 L484.57,249.48 L485.57,249.58 L486.57,249.68 L487.56,249.78 L488.56,249.88 L489.55,249.98 L490.55,250.08 L491.55,250.18 L492.54,250.28 L493.54,250.38 L494.54,250.48 L495.53,250.58 L496.53,250.67 L497.53,250.77 L498.52,250.86 L499.52,250.96 L500.52,251.05 L501.51,251.15 L502.51,251.24 L503.51,251.33 L504.51,251.43 L505.51,251.52 L506.50,251.61 L507.50,251.70 L508.50,251.79 L509.50,251.88 L510.50,251.97 L511.49,252.06 L512.49,252.15 L513.49,252.24 L514.49,252.33 L515.49,252.42 L516.49,252.50 L517.48,252.59 L518.48,252.68 L519.48,252.76 L520.48,252.85 L521.48,252.93 L522.48,253.02 L523.48,253.10 L524.48,253.19 L525.48,253.27 L526.47,253.35 L527.47,253.44 L528.47,253.52 L529.47,253.60 L530.47,253.68 L531.47,253.76 L532.47,253.84 L533.47,253.92 L534.47,254.00 L535.47,254.08 L536.47,254.16 L537.47,254.24 L538.47,254.32 L539.47,254.40 L540.47,254.48 L541.47,254.55 L542.47,254.63 L543.47,254.71 L544.47,254.78 L545.47,254.86 L546.47,254.94 L547.47,255.01 L548.47,255.09 L549.47,255.16 L550.47,255.24 L551.47,255.31 L552.47,255.38 L553.47,255.46 L554.47,255.53 L555.47,255.60 L556.47,255.68 L557.47,255.75 L558.47,255.82 L559.47,255.89 L560.47,255.97 L561.47,256.04 L562.47,256.11 L563.47,256.18 L564.47,256.25 L565.47,256.32 L566.47,256.39 L567.47,256.46 L568.47,256.53 L569.47,256.60 L570.47,256.67 L571.47,256.73 L572.47,256.80 L573.47,256.87 L574.47,256.94 L575.47,257.01 L576.47,257.07 L577.47,257.14 L578.47,257.21 L579.47,257.28 L580.47,257.34 L581.47,257.41 L582.47,257.47 L583.47,257.54 L584.47,257.61 L585.47,257.67 L586.47,257.74 L587.47,257.80 L588.47,257.87 L589.47,257.93 L590.47,258.00 L591.47,258.06 L592.47,258.12 L593.47,258.19 L594.47,258.25 L595.47,258.31 L596.47,258.38 L597.47,258.44 L598.47,258.50 L599.47,258.56 L600.47,258.63 L601.47,258.69 L602.47,258.75 L603.47,258.81 L604.46,258.87 L605.46,258.93 L606.46,259.00 L607.46,259.06 L608.46,259.12 L609.46,259.18 L610.46,259.24 L611.46,259.30 L612.46,259.36 L613.46,259.41 L614.46,259.47 L615.46,259.53 L616.46,259.59 L617.46,259.65 L618.46,259.71 L619.46,259.77 L620.46,259.82 L621.45,259.88 L622.45,259.94 L623.45,260.00 L624.45,260.05 L625.45,260.11 L626.45,260.17 L627.45,260.22 L628.45,260.28 L629.45,260.34 L630.45,260.39 L631.45,260.45 L632.45,260.50 L633.44,260.56 L634.44,260.61 L635.44,260.67 L636.44,260.72 L637.44,260.78 L638.44,260.83 L639.44,260.88 L640.44,260.94 L641.44,260.99 L642.44,261.05 L643.43,261.10 L644.43,261.15 L645.43,261.20 L646.43,261.26 L647.43,261.31 L648.43,261.36 L649.43,261.41 L650.43,261.47 L651.43,261.52 L652.42,261.57 L653.42,261.62 L654.42,261.67 L655.42,261.72 L656.42,261.77 L657.42,261.82 L658.42,261.87 L659.42,261.92 L660.42,261.97 L661.41,262.02 L662.41,262.07 L663.41,262.12 L664.41,262.17 L665.41,262.22 L666.41,262.27 L667.41,262.32 L668.41,262.37 L669.40,262.42 L670.40,262.46 L671.40,262.51 L672.40,262.56 L673.40,262.61 L674.40,262.66 L675.40,262.70 L676.39,262.75 L677.39,262.80 L678.39,262.84 L679.39,262.89 L680.39,262.94 L681.39,262.98 L682.39,263.03 L683.38,263.07 L684.38,263.12 L685.38,263.17 L686.38,263.21 L687.38,263.26 L688.38,263.30 L689.38,263.35 L690.37,263.39 L691.37,263.44 L692.37,263.48 L693.37,263.52 L694.37,263.57 L695.37,263.61 L696.37,263.66 L697.36,263.70 L698.36,263.74 L699.36,263.79 L700.36,263.83 L701.36,263.87 L702.36,263.91 L703.36,263.96 L704.35,264.00 L705.35,264.04 L706.35,264.08 L707.35,264.13 L708.35,264.17 L709.35,264.21 L710.34,264.25 L711.34,264.29 L712.34,264.33 L713.34,264.37 L714.34,264.42 L715.34,264.46 L716.33,264.50 L717.33,264.54 L718.33,264.58 L719.33,264.62 L720.33,264.66 L721.33,264.70 L722.32,264.74 L723.32,264.78 L724.32,264.81 L725.32,264.85 L726.32,264.89 L727.32,264.93 L728.31,264.97 L729.31,265.01 L730.31,265.05 L731.31,265.09 L732.31,265.12 L733.31,265.16 L734.30,265.20 L735.30,265.24 L736.30,265.28 L737.30,265.31 L738.30,265.35 L739.30,265.39 L740.29,265.42 L741.29,265.46 L742.29,265.50 L743.29,265.53 L744.29,265.57 L745.29,265.61 L746.28,265.64 L747.28,265.68 L748.28,265.71 L749.28,265.75 L750.28,265.79 L751.28,265.82 L752.27,265.86 L753.27,265.89 L754.27,265.93 L755.27,265.96 L756.27,266.00 L757.27,266.03 L758.26,266.07 L759.26,266.10 L760.26,266.13 L761.26,266.17 L762.26,266.20 L763.26,266.24 L764.25,266.27 L765.25,266.30 L766.25,266.34 L767.25,266.37 L768.25,266.40 L769.25,266.44 L770.24,266.47 L771.24,266.50 L772.24,266.54 L773.24,266.57 L774.24,266.60 L775.24,266.63 L776.23,266.67 L777.23,266.70 L778.23,266.73 L779.23,266.76 L780.23,266.79 L781.23,266.83 L782.22,266.86 L783.22,266.89 L784.22,266.92 L785.22,266.95 L786.22,266.98 L787.22,267.01 L788.21,267.04 L789.21,267.07 L790.21,267.11 L791.21,267.14 L792.21,267.17 L793.21,267.20 L794.20,267.23 L795.20,267.26 L796.20,267.29 L797.20,267.32 L798.20,267.35 L799.20,267.38 L800.19,267.41 L801.19,267.44 L802.19,267.46 L803.19,267.49 L804.19,267.52 L805.19,267.55 L806.19,267.58 L807.18,267.61 L808.18,267.64 L809.18,267.67 L810.18,267.70 L811.18,267.72 L812.18,267.75 L813.17,267.78 L814.17,267.81 L815.17,267.84 L816.17,267.86 L817.17,267.89 L818.17,267.92 L819.17,267.95 L820.16,267.97 L821.16,268.00 L822.16,268.03 L823.16,268.06 L824.16,268.08 L825.16,268.11 L826.16,268.14 L827.15,268.16 L828.15,268.19 L829.15,268.22 L830.15,268.24 L831.15,268.27 L832.15,268.30 L833.15,268.32 L834.14,268.35 L835.14,268.38 L836.14,268.40 L837.14,268.43 L838.14,268.45 L839.14,268.48 L840.14,268.51 L841.14,268.53 L842.13,268.56 L843.13,268.58 L844.13,268.61 L845.13,268.63 L846.13,268.66 L847.13,268.68 L848.13,268.71 L849.13,268.73 L850.12,268.76 L851.12,268.78 L852.12,268.81 L853.12,268.83 L854.12,268.86 L855.12,268.88 L856.12,268.91 L857.12,268.93 L858.11,268.95 L859.11,268.98 L860.11,269.00 L861.11,269.03 L862.11,269.05 L863.11,269.07 L864.11,269.10 L865.11,269.12 L866.11,269.15 L867.11,269.17 L868.10,269.19 L869.10,269.22 L870.10,269.24 L871.10,269.26 L872.10,269.29 L873.10,269.31 L874.10,269.33 L875.10,269.36 L876.10,269.38 L877.10,269.40 L878.09,269.42 L879.09,269.45 L880.09,269.47 L881.09,269.49 L882.09,269.52 L883.09,269.54 L884.09,269.56 L885.09,269.58 L886.09,269.61 L887.09,269.63 L888.09,269.65 L889.09,269.67 L890.09,269.69 L891.08,269.72 L892.08,269.74 L893.08,269.76 L894.08,269.78 L895.08,269.80 L896.08,269.83 L897.08,269.85 L898.08,269.87 L899.08,269.89 L900.08,269.91 L901.08,269.93 L902.08,269.96 L903.08,269.98 L904.08,270.00 L905.08,270.02 L906.08,270.04 L907.08,270.06 L908.08,270.08 L909.07,270.11 L910.07,270.13 L911.07,270.15 L912.07,270.17 L913.07,270.19 L914.07,270.21 L915.07,270.23 L916.07,270.25 L917.07,270.27 L918.07,270.29 L919.07,270.31 L920.07,270.34 L921.07,270.36 L922.07,270.38 L923.07,270.40 L924.07,270.42 L925.07,270.44 L926.07,270.46 L927.07,270.48 L928.07,270.50 L929.07,270.52 L930.07,270.54 L931.07,270.56 L932.07,270.58 L933.07,270.60 L934.07,270.62 L935.07,270.64 L936.07,270.66 L937.07,270.68 L938.07,270.70 L939.07,270.72 L940.07,270.74 L941.07,270.76 L942.07,270.78 L943.07,270.80 L944.07,270.82 L945.07,270.84 L946.07,270.86 L947.07,270.88 L948.07,270.90 L949.07,270.92 L950.07,270.94 L951.07,270.96 L952.07,270.98 L953.07,271.00 L954.07,271.02 L955.07,271.04 L956.08,271.06 L957.08,271.08 L958.08,271.10 L959.08,271.12 L960.08,271.14 L961.08,271.16 L962.08,271.17 L963.08,271.19 L964.08,271.21 L965.08,271.23 L966.08,271.25 L967.08,271.27 L968.08,271.29 L969.08,271.31 L970.08,271.33 L971.08,271.35 L972.09,271.37 L973.09,271.39 L974.09,271.41 L975.09,271.43 L976.09,271.45 L977.09,271.47 L978.09,271.48 L979.09,271.50 L980.09,271.52 L981.09,271.54 L982.10,271.56 L983.10,271.58 L984.10,271.60 L985.10,271.62 L986.10,271.64 L987.10,271.66 L988.10,271.68 L989.10,271.70 L990.10,271.72 L991.11,271.73 L992.11,271.75 L993.11,271.77 L994.11,271.79 L995.11,271.81 L996.11,271.83 L997.11,271.85 L998.12,271.87 L999.12,271.89 L1000.12,271.91 L1001.12,271.93 L1002.12,271.95 L1003.12,271.97 L1004.12,271.98 L1005.13,272.00 L1006.13,272.02 L1007.13,272.04 L1008.13,272.06 L1009.13,272.08 L1010.14,272.10 L1011.14,272.12 L1012.14,272.14 L1013.14,272.16 L1014.14,272.18 L1015.14,272.20 L1016.15,272.22 L1017.15,272.24 L1018.15,272.26 L1019.15,272.27 L1020.15,272.29 L1021.16,272.31 L1022.16,272.33 L1023.16,272.35 L1024.03,272.37" fill="none" stroke="#e2302a" stroke-width="5.2"/>
<path d="M105.85,608.79 L106.68,609.72 L107.51,610.61 L108.35,611.48 L109.20,612.32 L110.05,613.13 L110.92,613.90 L111.79,614.65 L112.67,615.36 L113.56,616.04 L114.45,616.69 L115.34,617.31 L116.25,617.89 L117.15,618.44 L118.07,618.96 L118.98,619.44 L119.90,619.89 L120.83,620.30 L121.75,620.68 L122.68,621.02 L123.61,621.33 L124.55,621.60 L125.48,621.84 L126.42,622.04 L127.35,622.20 L128.29,622.32 L129.23,622.41 L130.16,622.47 L131.10,622.48 L132.04,622.47 L132.97,622.42 L133.90,622.34 L134.83,622.24 L135.75,622.10 L136.68,621.93 L137.60,621.74 L138.51,621.52 L139.43,621.27 L140.33,621.01 L141.23,620.72 L142.13,620.40 L143.02,620.07 L143.91,619.72 L144.79,619.35 L145.66,618.96 L146.52,618.55 L147.38,618.13 L148.23,617.70 L149.07,617.25 L149.90,616.79 L150.72,616.31 L151.54,615.82 L152.35,615.32 L153.15,614.81 L153.95,614.29 L154.74,613.75 L155.52,613.20 L156.29,612.64 L157.06,612.07 L157.82,611.49 L158.58,610.89 L159.33,610.29 L160.07,609.68 L160.81,609.05 L161.54,608.42 L162.27,607.78 L162.99,607.13 L163.71,606.47 L164.42,605.80 L165.13,605.12 L165.83,604.43 L166.53,603.74 L167.22,603.04 L167.91,602.33 L168.60,601.61 L169.28,600.89 L169.96,600.16 L170.63,599.42 L171.30,598.68 L171.97,597.93 L172.64,597.18 L173.30,596.42 L173.96,595.65 L174.61,594.88 L175.27,594.11 L175.92,593.33 L176.57,592.55 L177.22,591.76 L177.87,590.97 L178.51,590.18 L179.16,589.38 L179.80,588.58 L180.44,587.78 L181.08,586.97 L181.72,586.16 L182.36,585.35 L183.00,584.54 L183.64,583.73 L184.28,582.92 L184.92,582.10 L185.56,581.29 L186.20,580.47 L186.83,579.65 L187.47,578.84 L188.12,578.02 L188.76,577.21 L189.40,576.39 L190.05,575.58 L190.69,574.77 L191.34,573.96 L191.99,573.15 L192.64,572.34 L193.29,571.54 L193.95,570.74 L194.61,569.94 L195.27,569.14 L195.93,568.35 L196.60,567.56 L197.27,566.78 L197.94,565.99 L198.61,565.22 L199.29,564.45 L199.98,563.68 L200.66,562.92 L201.35,562.16 L202.05,561.41 L202.74,560.66 L203.45,559.91 L204.15,559.17 L204.86,558.44 L205.57,557.71 L206.28,556.99 L207.00,556.26 L207.72,555.55 L208.45,554.84 L209.18,554.13 L209.91,553.43 L210.64,552.73 L211.38,552.03 L212.12,551.34 L212.86,550.65 L213.61,549.97 L214.36,549.29 L215.11,548.62 L215.86,547.95 L216.62,547.28 L217.38,546.62 L218.15,545.96 L218.91,545.30 L219.68,544.65 L220.45,544.00 L221.22,543.36 L222.00,542.72 L222.78,542.08 L223.56,541.44 L224.34,540.81 L225.13,540.19 L225.91,539.56 L226.70,538.94 L227.49,538.32 L228.29,537.71 L229.08,537.10 L229.88,536.49 L230.68,535.89 L231.48,535.29 L232.29,534.69 L233.09,534.09 L233.90,533.50 L234.71,532.91 L235.52,532.32 L236.34,531.74 L237.15,531.16 L237.97,530.58 L238.78,530.00 L239.60,529.43 L240.43,528.86 L241.25,528.29 L242.07,527.72 L242.90,527.16 L243.72,526.60 L244.55,526.04 L245.38,525.48 L246.21,524.93 L247.04,524.37 L247.87,523.82 L248.71,523.28 L249.54,522.73 L250.38,522.19 L251.21,521.65 L252.05,521.11 L252.89,520.57 L253.73,520.03 L254.57,519.50 L255.41,518.97 L256.26,518.44 L257.10,517.91 L257.95,517.39 L258.79,516.86 L259.64,516.34 L260.49,515.82 L261.34,515.31 L262.19,514.79 L263.04,514.28 L263.89,513.77 L264.74,513.26 L265.60,512.75 L266.45,512.25 L267.31,511.75 L268.17,511.25 L269.03,510.75 L269.89,510.25 L270.75,509.76 L271.61,509.26 L272.47,508.77 L273.33,508.28 L274.20,507.80 L275.06,507.31 L275.93,506.83 L276.80,506.35 L277.67,505.87 L278.53,505.39 L279.40,504.91 L280.28,504.44 L281.15,503.97 L282.02,503.50 L282.89,503.03 L283.77,502.57 L284.64,502.10 L285.52,501.64 L286.40,501.18 L287.28,500.72 L288.16,500.26 L289.04,499.81 L289.92,499.35 L290.80,498.90 L291.68,498.45 L292.57,498.01 L293.45,497.56 L294.34,497.11 L295.22,496.67 L296.11,496.23 L297.00,495.79 L297.89,495.36 L298.78,494.92 L299.67,494.49 L300.56,494.06 L301.45,493.62 L302.35,493.20 L303.24,492.77 L304.14,492.34 L305.03,491.92 L305.93,491.50 L306.83,491.08 L307.72,490.66 L308.62,490.25 L309.52,489.83 L310.42,489.42 L311.32,489.01 L312.23,488.60 L313.13,488.19 L314.03,487.78 L314.94,487.38 L315.84,486.97 L316.75,486.57 L317.66,486.17 L318.57,485.77 L319.47,485.38 L320.38,484.98 L321.29,484.59 L322.20,484.20 L323.12,483.81 L324.03,483.42 L324.94,483.03 L325.86,482.64 L326.77,482.26 L327.69,481.88 L328.60,481.50 L329.52,481.12 L330.44,480.74 L331.35,480.36 L332.27,479.99 L333.19,479.62 L334.11,479.24 L335.03,478.87 L335.96,478.50 L336.88,478.14 L337.80,477.77 L338.73,477.41 L339.65,477.04 L340.58,476.68 L341.50,476.32 L342.43,475.96 L343.36,475.61 L344.28,475.25 L345.21,474.90 L346.14,474.54 L347.07,474.19 L348.00,473.84 L348.93,473.49 L349.86,473.15 L350.80,472.80 L351.73,472.46 L352.66,472.11 L353.60,471.77 L354.53,471.43 L355.47,471.09 L356.40,470.75 L357.34,470.42 L358.28,470.08 L359.22,469.75 L360.16,469.42 L361.09,469.09 L362.03,468.76 L362.97,468.43 L363.92,468.10 L364.86,467.77 L365.80,467.45 L366.74,467.13 L367.68,466.81 L368.63,466.48 L369.57,466.17 L370.52,465.85 L371.46,465.53 L372.41,465.21 L373.36,464.90 L374.30,464.59 L375.25,464.27 L376.20,463.96 L377.15,463.65 L378.10,463.35 L379.05,463.04 L380.00,462.73 L380.95,462.43 L381.90,462.12 L382.85,461.82 L383.80,461.52 L384.75,461.22 L385.71,460.92 L386.66,460.62 L387.61,460.33 L388.57,460.03 L389.52,459.74 L390.48,459.44 L391.44,459.15 L392.39,458.86 L393.35,458.57 L394.31,458.28 L395.26,457.99 L396.22,457.71 L397.18,457.42 L398.14,457.14 L399.10,456.85 L400.06,456.57 L401.02,456.29 L401.98,456.01 L402.94,455.73 L403.90,455.45 L404.87,455.18 L405.83,454.90 L406.79,454.62 L407.75,454.35 L408.72,454.08 L409.68,453.80 L410.65,453.53 L411.61,453.26 L412.58,452.99 L413.54,452.72 L414.51,452.46 L415.47,452.19 L416.44,451.93 L417.41,451.66 L418.37,451.40 L419.34,451.13 L420.31,450.87 L421.28,450.61 L422.25,450.35 L423.22,450.09 L424.19,449.83 L425.16,449.58 L426.13,449.32 L427.10,449.07 L428.07,448.81 L429.04,448.56 L430.01,448.30 L430.98,448.05 L431.95,447.80 L432.92,447.55 L433.90,447.30 L434.87,447.05 L435.84,446.80 L436.82,446.56 L437.79,446.31 L438.76,446.06 L439.74,445.82 L440.71,445.58 L441.69,445.33 L442.66,445.09 L443.64,444.85 L444.61,444.61 L445.59,444.37 L446.56,444.13 L447.54,443.89 L448.52,443.65 L449.49,443.41 L450.47,443.18 L451.45,442.94 L452.42,442.71 L453.40,442.47 L454.38,442.24 L455.36,442.01 L456.34,441.77 L457.31,441.54 L458.29,441.31 L459.27,441.08 L460.25,440.85 L461.23,440.62 L462.21,440.39 L463.19,440.17 L464.17,439.94 L465.15,439.71 L466.13,439.49 L467.11,439.26 L468.09,439.04 L469.07,438.81 L470.05,438.59 L471.03,438.37 L472.01,438.14 L472.99,437.92 L473.97,437.70 L474.95,437.48 L475.93,437.26 L476.91,437.04 L477.90,436.82 L478.88,436.60 L479.86,436.39 L480.84,436.17 L481.82,435.95 L482.80,435.74 L483.79,435.52 L484.77,435.30 L485.75,435.09 L486.73,434.88 L487.71,434.66 L488.70,434.45 L489.68,434.24 L490.66,434.02 L491.64,433.81 L492.63,433.60 L493.61,433.39 L494.59,433.18 L495.58,432.97 L496.56,432.76 L497.54,432.55 L498.52,432.34 L499.51,432.13 L500.49,431.92 L501.47,431.71 L502.46,431.51 L503.44,431.30 L504.42,431.09 L505.40,430.88 L506.39,430.68 L507.37,430.47 L508.35,430.27 L509.34,430.06 L510.32,429.86 L511.30,429.65 L512.29,429.45 L513.27,429.25 L514.25,429.04 L515.24,428.84 L516.22,428.64 L517.20,428.44 L518.19,428.24 L519.17,428.04 L520.15,427.83 L521.14,427.63 L522.12,427.43 L523.10,427.23 L524.09,427.04 L525.07,426.84 L526.05,426.64 L527.04,426.44 L528.02,426.24 L529.00,426.04 L529.99,425.85 L530.97,425.65 L531.95,425.45 L532.94,425.26 L533.92,425.06 L534.90,424.87 L535.89,424.67 L536.87,424.48 L537.86,424.28 L538.84,424.09 L539.82,423.90 L540.81,423.70 L541.79,423.51 L542.77,423.32 L543.76,423.13 L544.74,422.94 L545.73,422.74 L546.71,422.55 L547.69,422.36 L548.68,422.17 L549.66,421.98 L550.64,421.79 L551.63,421.60 L552.61,421.42 L553.60,421.23 L554.58,421.04 L555.56,420.85 L556.55,420.66 L557.53,420.48 L558.52,420.29 L559.50,420.10 L560.49,419.92 L561.47,419.73 L562.45,419.55 L563.44,419.36 L564.42,419.18 L565.41,418.99 L566.39,418.81 L567.37,418.63 L568.36,418.44 L569.34,418.26 L570.33,418.08 L571.31,417.90 L572.30,417.71 L573.28,417.53 L574.27,417.35 L575.25,417.17 L576.23,416.99 L577.22,416.81 L578.20,416.63 L579.19,416.45 L580.17,416.27 L581.16,416.09 L582.14,415.91 L583.13,415.74 L584.11,415.56 L585.10,415.38 L586.08,415.20 L587.07,415.03 L588.05,414.85 L589.04,414.67 L590.02,414.50 L591.00,414.32 L591.99,414.15 L592.97,413.97 L593.96,413.80 L594.94,413.62 L595.93,413.45 L596.91,413.28 L597.90,413.10 L598.88,412.93 L599.87,412.76 L600.85,412.59 L601.84,412.41 L602.83,412.24 L603.81,412.07 L604.80,411.90 L605.78,411.73 L606.77,411.56 L607.75,411.39 L608.74,411.22 L609.72,411.05 L610.71,410.88 L611.69,410.71 L612.68,410.54 L613.66,410.37 L614.65,410.21 L615.63,410.04 L616.62,409.87 L617.61,409.70 L618.59,409.54 L619.58,409.37 L620.56,409.21 L621.55,409.04 L622.53,408.87 L623.52,408.71 L624.50,408.54 L625.49,408.38 L626.48,408.22 L627.46,408.05 L628.45,407.89 L629.43,407.72 L630.42,407.56 L631.40,407.40 L632.39,407.24 L633.38,407.07 L634.36,406.91 L635.35,406.75 L636.33,406.59 L637.32,406.43 L638.31,406.27 L639.29,406.11 L640.28,405.95 L641.27,405.79 L642.25,405.63 L643.24,405.47 L644.22,405.31 L645.21,405.15 L646.20,404.99 L647.18,404.84 L648.17,404.68 L649.15,404.52 L650.14,404.36 L651.13,404.21 L652.11,404.05 L653.10,403.89 L654.09,403.74 L655.07,403.58 L656.06,403.43 L657.05,403.27 L658.03,403.12 L659.02,402.96 L660.01,402.81 L660.99,402.65 L661.98,402.50 L662.97,402.35 L663.95,402.19 L664.94,402.04 L665.93,401.89 L666.91,401.74 L667.90,401.58 L668.89,401.43 L669.87,401.28 L670.86,401.13 L671.85,400.98 L672.84,400.83 L673.82,400.68 L674.81,400.53 L675.80,400.38 L676.78,400.23 L677.77,400.08 L678.76,399.93 L679.74,399.78 L680.73,399.63 L681.72,399.48 L682.71,399.33 L683.69,399.19 L684.68,399.04 L685.67,398.89 L686.66,398.75 L687.64,398.60 L688.63,398.45 L689.62,398.31 L690.61,398.16 L691.59,398.01 L692.58,397.87 L693.57,397.72 L694.56,397.58 L695.54,397.43 L696.53,397.29 L697.52,397.15 L698.51,397.00 L699.49,396.86 L700.48,396.71 L701.47,396.57 L702.46,396.43 L703.45,396.29 L704.43,396.14 L705.42,396.00 L706.41,395.86 L707.40,395.72 L708.39,395.58 L709.37,395.44 L710.36,395.29 L711.35,395.15 L712.34,395.01 L713.33,394.87 L714.31,394.73 L715.30,394.59 L716.29,394.45 L717.28,394.31 L718.27,394.18 L719.26,394.04 L720.24,393.90 L721.23,393.76 L722.22,393.62 L723.21,393.48 L724.20,393.35 L725.19,393.21 L726.18,393.07 L727.16,392.94 L728.15,392.80 L729.14,392.66 L730.13,392.53 L731.12,392.39 L732.11,392.26 L733.10,392.12 L734.09,391.98 L735.07,391.85 L736.06,391.72 L737.05,391.58 L738.04,391.45 L739.03,391.31 L740.02,391.18 L741.01,391.05 L742.00,390.91 L742.99,390.78 L743.98,390.65 L744.96,390.51 L745.95,390.38 L746.94,390.25 L747.93,390.12 L748.92,389.98 L749.91,389.85 L750.90,389.72 L751.89,389.59 L752.88,389.46 L753.87,389.33 L754.86,389.20 L755.85,389.07 L756.84,388.94 L757.83,388.81 L758.82,388.68 L759.81,388.55 L760.80,388.42 L761.79,388.29 L762.78,388.16 L763.77,388.03 L764.76,387.91 L765.74,387.78 L766.73,387.65 L767.72,387.52 L768.71,387.39 L769.70,387.27 L770.69,387.14 L771.68,387.01 L772.67,386.89 L773.67,386.76 L774.66,386.63 L775.65,386.51 L776.64,386.38 L777.63,386.26 L778.62,386.13 L779.61,386.00 L780.60,385.88 L781.59,385.75 L782.58,385.63 L783.57,385.51 L784.56,385.38 L785.55,385.26 L786.54,385.13 L787.53,385.01 L788.52,384.89 L789.51,384.76 L790.50,384.64 L791.49,384.52 L792.48,384.39 L793.47,384.27 L794.47,384.15 L795.46,384.03 L796.45,383.90 L797.44,383.78 L798.43,383.66 L799.42,383.54 L800.41,383.42 L801.40,383.30 L802.39,383.18 L803.38,383.06 L804.38,382.94 L805.37,382.82 L806.36,382.70 L807.35,382.58 L808.34,382.46 L809.33,382.34 L810.32,382.22 L811.32,382.10 L812.31,381.98 L813.30,381.86 L814.29,381.74 L815.28,381.62 L816.27,381.50 L817.26,381.39 L818.26,381.27 L819.25,381.15 L820.24,381.03 L821.23,380.91 L822.22,380.80 L823.22,380.68 L824.21,380.56 L825.20,380.45 L826.19,380.33 L827.18,380.21 L828.17,380.10 L829.17,379.98 L830.16,379.87 L831.15,379.75 L832.14,379.63 L833.14,379.52 L834.13,379.40 L835.12,379.29 L836.11,379.17 L837.11,379.06 L838.10,378.94 L839.09,378.83 L840.08,378.71 L841.07,378.60 L842.07,378.49 L843.06,378.37 L844.05,378.26 L845.05,378.15 L846.04,378.03 L847.03,377.92 L848.02,377.81 L849.02,377.69 L850.01,377.58 L851.00,377.47 L852.00,377.36 L852.99,377.24 L853.98,377.13 L854.97,377.02 L855.97,376.91 L856.96,376.80 L857.95,376.68 L858.95,376.57 L859.94,376.46 L860.93,376.35 L861.93,376.24 L862.92,376.13 L863.91,376.02 L864.91,375.91 L865.90,375.80 L866.89,375.69 L867.89,375.58 L868.88,375.47 L869.87,375.36 L870.87,375.25 L871.86,375.14 L872.86,375.03 L873.85,374.92 L874.84,374.81 L875.84,374.70 L876.83,374.59 L877.82,374.48 L878.82,374.37 L879.81,374.27 L880.81,374.16 L881.80,374.05 L882.80,373.94 L883.79,373.83 L884.78,373.73 L885.78,373.62 L886.77,373.51 L887.77,373.40 L888.76,373.30 L889.76,373.19 L890.75,373.08 L891.74,372.97 L892.74,372.87 L893.73,372.76 L894.73,372.65 L895.72,372.55 L896.72,372.44 L897.71,372.34 L898.71,372.23 L899.70,372.12 L900.70,372.02 L901.69,371.91 L902.69,371.81 L903.68,371.70 L904.68,371.60 L905.67,371.49 L906.67,371.38 L907.66,371.28 L908.66,371.18 L909.65,371.07 L910.65,370.97 L911.64,370.86 L912.64,370.76 L913.63,370.65 L914.63,370.55 L915.62,370.44 L916.62,370.34 L917.61,370.24 L918.61,370.13 L919.61,370.03 L920.60,369.93 L921.60,369.82 L922.59,369.72 L923.59,369.62 L924.58,369.51 L925.58,369.41 L926.58,369.31 L927.57,369.20 L928.57,369.10 L929.56,369.00 L930.56,368.90 L931.56,368.79 L932.55,368.69 L933.55,368.59 L934.55,368.49 L935.54,368.38 L936.54,368.28 L937.53,368.18 L938.53,368.08 L939.53,367.98 L940.52,367.88 L941.52,367.77 L942.52,367.67 L943.51,367.57 L944.51,367.47 L945.51,367.37 L946.50,367.27 L947.50,367.17 L948.50,367.07 L949.49,366.97 L950.49,366.86 L951.49,366.76 L952.49,366.66 L953.48,366.56 L954.48,366.46 L955.48,366.36 L956.47,366.26 L957.47,366.16 L958.47,366.06 L959.47,365.96 L960.46,365.86 L961.46,365.76 L962.46,365.66 L963.46,365.56 L964.45,365.46 L965.45,365.36 L966.45,365.26 L967.45,365.17 L968.44,365.07 L969.44,364.97 L970.44,364.87 L971.44,364.77 L972.43,364.67 L973.43,364.57 L974.43,364.47 L975.43,364.37 L976.43,364.27 L977.42,364.18 L978.42,364.08 L979.42,363.98 L980.42,363.88 L981.42,363.78 L982.42,363.68 L983.41,363.59 L984.41,363.49 L985.41,363.39 L986.41,363.29 L987.41,363.19 L988.41,363.10 L989.41,363.00 L990.40,362.90 L991.40,362.80 L992.40,362.71 L993.40,362.61 L994.40,362.51 L995.40,362.41 L996.40,362.32 L997.40,362.22 L998.40,362.12 L999.39,362.02 L1000.39,361.93 L1001.39,361.83 L1002.39,361.73 L1003.39,361.63 L1004.39,361.54 L1005.39,361.44 L1006.39,361.34 L1007.39,361.25 L1008.39,361.15 L1009.39,361.05 L1010.39,360.96 L1011.39,360.86 L1012.39,360.76 L1013.39,360.67 L1014.39,360.57 L1015.39,360.47 L1016.39,360.38 L1017.39,360.28 L1018.39,360.18 L1019.39,360.09 L1020.39,359.99 L1021.39,359.90 L1022.39,359.80 L1023.39,359.70 L1024.39,359.61 L1025.17,359.53" fill="none" stroke="#141414" stroke-width="5.2" stroke-dasharray="4.5 25.59" stroke-dashoffset="-1.45"/>
<path d="M106.50,609.31 L106.56,608.31 L106.62,607.31 L106.68,606.31 L106.74,605.31 L106.80,604.32 L106.86,603.32 L106.92,602.32 L106.99,601.32 L107.05,600.32 L107.11,599.32 L107.17,598.32 L107.23,597.32 L107.29,596.32 L107.35,595.32 L107.41,594.33 L107.47,593.33 L107.53,592.33 L107.59,591.33 L107.65,590.33 L107.71,589.33 L107.77,588.33 L107.83,587.33 L107.89,586.33 L107.95,585.33 L108.01,584.34 L108.07,583.34 L108.13,582.34 L108.19,581.34 L108.25,580.34 L108.31,579.34 L108.37,578.34 L108.43,577.34 L108.49,576.35 L108.55,575.35 L108.61,574.35 L108.66,573.35 L108.72,572.35 L108.78,571.35 L108.84,570.35 L108.90,569.35 L108.96,568.36 L109.02,567.36 L109.08,566.36 L109.14,565.36 L109.20,564.36 L109.26,563.36 L109.32,562.36 L109.37,561.37 L109.43,560.37 L109.49,559.37 L109.55,558.37 L109.61,557.37 L109.67,556.37 L109.73,555.38 L109.79,554.38 L109.85,553.38 L109.91,552.38 L109.97,551.38 L110.02,550.38 L110.08,549.38 L110.14,548.39 L110.20,547.39 L110.26,546.39 L110.32,545.39 L110.38,544.39 L110.44,543.39 L110.50,542.40 L110.56,541.40 L110.62,540.40 L110.68,539.40 L110.74,538.40 L110.79,537.41 L110.85,536.41 L110.91,535.41 L110.97,534.41 L111.03,533.41 L111.09,532.41 L111.15,531.42 L111.21,530.42 L111.27,529.42 L111.33,528.42 L111.39,527.42 L111.45,526.43 L111.51,525.43 L111.57,524.43 L111.63,523.43 L111.69,522.43 L111.75,521.44 L111.81,520.44 L111.87,519.44 L111.93,518.44 L111.99,517.44 L112.05,516.45 L112.11,515.45 L112.17,514.45 L112.23,513.45 L112.29,512.45 L112.36,511.46 L112.42,510.46 L112.48,509.46 L112.54,508.46 L112.60,507.46 L112.66,506.47 L112.72,505.47 L112.78,504.47 L112.85,503.47 L112.91,502.48 L112.97,501.48 L113.03,500.48 L113.09,499.48 L113.15,498.48 L113.22,497.49 L113.28,496.49 L113.34,495.49 L113.40,494.49 L113.47,493.50 L113.53,492.50 L113.59,491.50 L113.65,490.50 L113.72,489.51 L113.78,488.51 L113.84,487.51 L113.91,486.51 L113.97,485.52 L114.03,484.52 L114.10,483.52 L114.16,482.52 L114.23,481.53 L114.29,480.53 L114.35,479.53 L114.42,478.53 L114.48,477.54 L114.55,476.54 L114.61,475.54 L114.68,474.54 L114.74,473.55 L114.81,472.55 L114.87,471.55 L114.94,470.55 L115.00,469.56 L115.07,468.56 L115.14,467.56 L115.20,466.56 L115.27,465.57 L115.33,464.57 L115.40,463.57 L115.47,462.57 L115.53,461.58 L115.60,460.58 L115.67,459.58 L115.74,458.59 L115.80,457.59 L115.87,456.59 L115.94,455.59 L116.01,454.60 L116.08,453.60 L116.15,452.60 L116.21,451.61 L116.28,450.61 L116.35,449.61 L116.42,448.61 L116.49,447.62 L116.56,446.62 L116.63,445.62 L116.70,444.63 L116.77,443.63 L116.84,442.63 L116.91,441.63 L116.98,440.64 L117.05,439.64 L117.12,438.64 L117.20,437.65 L117.27,436.65 L117.34,435.65 L117.41,434.66 L117.48,433.66 L117.56,432.66 L117.63,431.66 L117.70,430.67 L117.78,429.67 L117.85,428.67 L117.92,427.68 L118.00,426.68 L118.07,425.68 L118.14,424.69 L118.22,423.69 L118.29,422.69 L118.37,421.70 L118.44,420.70 L118.52,419.70 L118.60,418.71 L118.67,417.71 L118.75,416.71 L118.82,415.72 L118.90,414.72 L118.98,413.72 L119.05,412.73 L119.13,411.73 L119.21,410.73 L119.29,409.74 L119.37,408.74 L119.44,407.74 L119.52,406.75 L119.60,405.75 L119.68,404.75 L119.76,403.76 L119.84,402.76 L119.92,401.76 L120.00,400.77 L120.08,399.77 L120.16,398.77 L120.24,397.78 L120.33,396.78 L120.41,395.78 L120.49,394.79 L120.57,393.79 L120.65,392.79 L120.74,391.80 L120.82,390.80 L120.90,389.80 L120.99,388.81 L121.07,387.81 L121.16,386.81 L121.24,385.82 L121.33,384.82 L121.41,383.83 L121.50,382.83 L121.58,381.83 L121.67,380.84 L121.76,379.84 L121.84,378.84 L121.93,377.85 L122.02,376.85 L122.11,375.85 L122.19,374.86 L122.28,373.86 L122.37,372.87 L122.46,371.87 L122.55,370.87 L122.64,369.88 L122.73,368.88 L122.82,367.88 L122.91,366.89 L123.00,365.89 L123.09,364.90 L123.18,363.90 L123.28,362.90 L123.37,361.91 L123.46,360.91 L123.55,359.92 L123.65,358.92 L123.74,357.92 L123.84,356.93 L123.93,355.93 L124.02,354.94 L124.12,353.94 L124.22,352.94 L124.31,351.95 L124.41,350.95 L124.50,349.95 L124.60,348.96 L124.70,347.96 L124.80,346.97 L124.89,345.97 L124.99,344.97 L125.09,343.98 L125.19,342.98 L125.29,341.99 L125.39,340.99 L125.49,340.00 L125.59,339.00 L125.69,338.00 L125.79,337.01 L125.90,336.01 L126.00,335.02 L126.10,334.02 L126.20,333.02 L126.31,332.03 L126.41,331.03 L126.52,330.04 L126.62,329.04 L126.73,328.04 L126.83,327.05 L126.94,326.05 L127.04,325.06 L127.15,324.06 L127.26,323.07 L127.36,322.07 L127.47,321.08 L127.58,320.08 L127.69,319.08 L127.80,318.09 L127.91,317.09 L128.02,316.10 L128.13,315.10 L128.24,314.11 L128.35,313.11 L128.46,312.12 L128.57,311.12 L128.68,310.13 L128.79,309.13 L128.91,308.14 L129.02,307.14 L129.13,306.15 L129.25,305.15 L129.36,304.16 L129.48,303.16 L129.59,302.17 L129.71,301.17 L129.82,300.18 L129.94,299.19 L130.06,298.19 L130.18,297.20 L130.29,296.20 L130.41,295.21 L130.53,294.21 L130.65,293.22 L130.77,292.23 L130.89,291.23 L131.01,290.24 L131.13,289.25 L131.25,288.25 L131.37,287.26 L131.49,286.27 L131.61,285.27 L131.74,284.28 L131.86,283.29 L131.98,282.29 L132.10,281.30 L132.23,280.31 L132.35,279.31 L132.48,278.32 L132.60,277.33 L132.73,276.34 L132.86,275.34 L132.98,274.35 L133.11,273.36 L133.24,272.37 L133.36,271.38 L133.49,270.38 L133.62,269.39 L133.75,268.40 L133.88,267.41 L134.01,266.42 L134.14,265.43 L134.27,264.44 L134.40,263.45 L134.53,262.46 L134.66,261.46 L134.79,260.47 L134.93,259.48 L135.06,258.49 L135.19,257.50 L135.33,256.51 L135.46,255.52 L135.60,254.53 L135.73,253.54 L135.87,252.55 L136.00,251.57 L136.14,250.58 L136.28,249.59 L136.41,248.60 L136.55,247.61 L136.69,246.62 L136.83,245.63 L136.97,244.64 L137.10,243.66 L137.24,242.67 L137.38,241.68 L137.52,240.69 L137.67,239.71 L137.81,238.72 L137.95,237.73 L138.09,236.74 L138.23,235.76 L138.38,234.77 L138.52,233.78 L138.66,232.80 L138.81,231.81 L138.95,230.83 L139.10,229.84 L139.24,228.85 L139.39,227.87 L139.54,226.88 L139.68,225.90 L139.83,224.91 L139.98,223.93 L140.12,222.94 L140.27,221.96 L140.42,220.98 L140.57,219.99 L140.72,219.01 L140.87,218.02 L141.02,217.04 L141.17,216.06 L141.32,215.07 L141.48,214.09 L141.63,213.11 L141.78,212.13 L141.93,211.14 L142.09,210.16 L142.24,209.18 L142.39,208.20 L142.55,207.21 L142.70,206.23 L142.86,205.25 L143.01,204.27 L143.17,203.28 L143.33,202.30 L143.48,201.32 L143.64,200.33 L143.80,199.35 L143.95,198.37 L144.11,197.38 L144.27,196.40 L144.43,195.42 L144.58,194.43 L144.74,193.45 L144.90,192.46 L145.06,191.48 L145.22,190.49 L145.38,189.51 L145.54,188.52 L145.70,187.53 L145.86,186.55 L146.02,185.56 L146.18,184.57 L146.34,183.58 L146.50,182.60 L146.67,181.61 L146.83,180.62 L146.99,179.63 L147.15,178.64 L147.31,177.64 L147.47,176.65 L147.64,175.66 L147.80,174.67 L147.96,173.67 L148.12,172.68 L148.29,171.69 L148.45,170.69 L148.61,169.69 L148.78,168.70 L148.94,167.70 L149.10,166.70 L149.27,165.70 L149.43,164.70 L149.59,163.70 L149.76,162.70 L149.92,161.69 L150.08,160.69 L150.25,159.69 L150.41,158.68 L150.58,157.68 L150.74,156.67 L150.91,155.66 L151.08,154.66 L151.26,153.65 L151.45,152.65 L151.64,151.65 L151.83,150.65 L152.04,149.66 L152.26,148.66 L152.48,147.67 L152.72,146.69 L152.97,145.71 L153.24,144.73 L153.52,143.76 L153.81,142.80 L154.12,141.84 L154.45,140.89 L154.80,139.94 L155.17,139.00 L155.56,138.07 L155.97,137.15 L156.40,136.23 L156.86,135.33 L157.34,134.43 L157.84,133.55 L158.38,132.67 L158.94,131.81 L159.53,130.95 L160.15,130.11 L160.79,129.28 L161.46,128.46 L162.16,127.66 L162.87,126.87 L163.61,126.09 L164.36,125.32 L165.12,124.57 L165.90,123.84 L166.68,123.12 L167.47,122.41 L168.27,121.72 L169.07,121.05 L169.87,120.40 L170.66,119.76 L171.45,119.14 L172.24,118.54 L173.02,117.97 L173.79,117.43 L174.56,116.93 L175.33,116.48 L176.09,116.08 L176.84,115.73 L177.59,115.45 L178.33,115.23 L179.07,115.09 L179.81,115.03 L180.54,115.06 L181.27,115.18 L181.99,115.39 L182.71,115.68 L183.42,116.06 L184.14,116.50 L184.84,117.01 L185.55,117.58 L186.25,118.19 L186.94,118.85 L187.64,119.55 L188.33,120.27 L189.02,121.02 L189.70,121.79 L190.38,122.56 L191.06,123.34 L191.74,124.13 L192.41,124.91 L193.09,125.70 L193.76,126.50 L194.42,127.30 L195.09,128.09 L195.75,128.90 L196.42,129.70 L197.08,130.51 L197.74,131.31 L198.40,132.12 L199.05,132.93 L199.71,133.74 L200.36,134.55 L201.02,135.37 L201.67,136.18 L202.32,136.99 L202.97,137.80 L203.62,138.61 L204.28,139.42 L204.93,140.23 L205.58,141.04 L206.23,141.85 L206.87,142.65 L207.52,143.46 L208.17,144.26 L208.82,145.07 L209.47,145.87 L210.12,146.67 L210.77,147.47 L211.42,148.27 L212.07,149.07 L212.72,149.87 L213.38,150.66 L214.03,151.45 L214.68,152.24 L215.34,153.03 L215.99,153.82 L216.65,154.60 L217.30,155.39 L217.96,156.17 L218.62,156.94 L219.28,157.72 L219.94,158.49 L220.61,159.26 L221.27,160.03 L221.94,160.80 L222.61,161.56 L223.28,162.32 L223.95,163.07 L224.62,163.83 L225.29,164.58 L225.97,165.32 L226.65,166.07 L227.33,166.81 L228.02,167.54 L228.70,168.28 L229.39,169.01 L230.08,169.73 L230.77,170.45 L231.47,171.17 L232.17,171.89 L232.87,172.60 L233.57,173.30 L234.28,174.00 L234.99,174.70 L235.70,175.39 L236.42,176.08 L237.13,176.76 L237.86,177.44 L238.58,178.12 L239.31,178.79 L240.04,179.45 L240.78,180.11 L241.52,180.76 L242.26,181.41 L243.01,182.05 L243.76,182.69 L244.51,183.33 L245.27,183.95 L246.03,184.58 L246.80,185.19 L247.57,185.81 L248.34,186.41 L249.12,187.02 L249.90,187.61 L250.68,188.21 L251.47,188.79 L252.26,189.38 L253.05,189.95 L253.85,190.53 L254.65,191.09 L255.45,191.66 L256.26,192.22 L257.07,192.77 L257.88,193.32 L258.70,193.86 L259.52,194.40 L260.34,194.94 L261.17,195.47 L262.00,195.99 L262.83,196.51 L263.67,197.03 L264.51,197.54 L265.35,198.05 L266.19,198.56 L267.04,199.05 L267.89,199.55 L268.74,200.04 L269.60,200.53 L270.46,201.01 L271.32,201.49 L272.18,201.96 L273.05,202.43 L273.92,202.90 L274.79,203.36 L275.66,203.81 L276.54,204.27 L277.42,204.72 L278.30,205.16 L279.18,205.60 L280.07,206.04 L280.96,206.48 L281.85,206.91 L282.75,207.33 L283.64,207.75 L284.54,208.17 L285.44,208.59 L286.35,209.00 L287.25,209.41 L288.16,209.81 L289.07,210.21 L289.98,210.61 L290.89,211.00 L291.81,211.39 L292.73,211.78 L293.65,212.16 L294.57,212.54 L295.49,212.92 L296.42,213.29 L297.34,213.66 L298.27,214.03 L299.20,214.39 L300.14,214.75 L301.07,215.11 L302.01,215.46 L302.95,215.81 L303.89,216.16 L304.83,216.50 L305.77,216.85 L306.71,217.18 L307.66,217.52 L308.61,217.85 L309.56,218.18 L310.51,218.51 L311.46,218.83 L312.41,219.16 L313.37,219.48 L314.32,219.79 L315.28,220.10 L316.24,220.42 L317.20,220.72 L318.16,221.03 L319.12,221.33 L320.08,221.63 L321.04,221.93 L322.01,222.23 L322.98,222.52 L323.94,222.81 L324.91,223.10 L325.88,223.38 L326.85,223.67 L327.82,223.95 L328.79,224.23 L329.77,224.50 L330.74,224.78 L331.71,225.05 L332.69,225.32 L333.66,225.59 L334.64,225.86 L335.62,226.12 L336.59,226.38 L337.57,226.64 L338.55,226.90 L339.53,227.16 L340.51,227.41 L341.49,227.66 L342.47,227.91 L343.45,228.16 L344.43,228.41 L345.41,228.66 L346.40,228.90 L347.38,229.14 L348.36,229.38 L349.34,229.62 L350.33,229.86 L351.31,230.10 L352.29,230.33 L353.27,230.56 L354.26,230.80 L355.24,231.03 L356.22,231.25 L357.21,231.48 L358.19,231.71 L359.18,231.93 L360.16,232.16 L361.14,232.38 L362.13,232.60 L363.11,232.82 L364.09,233.03 L365.08,233.25 L366.06,233.46 L367.05,233.68 L368.03,233.89 L369.02,234.10 L370.00,234.31 L370.99,234.52 L371.97,234.72 L372.96,234.93 L373.94,235.13 L374.93,235.34 L375.91,235.54 L376.90,235.74 L377.88,235.94 L378.87,236.13 L379.85,236.33 L380.84,236.53 L381.82,236.72 L382.81,236.91 L383.79,237.10 L384.78,237.29 L385.76,237.48 L386.75,237.67 L387.74,237.85 L388.72,238.04 L389.71,238.22 L390.69,238.41 L391.68,238.59 L392.67,238.77 L393.65,238.95 L394.64,239.12 L395.63,239.30 L396.61,239.47 L397.60,239.65 L398.59,239.82 L399.57,239.99 L400.56,240.16 L401.55,240.33 L402.53,240.50 L403.52,240.67 L404.51,240.83 L405.50,241.00 L406.48,241.16 L407.47,241.33 L408.46,241.49 L409.45,241.65 L410.43,241.81 L411.42,241.96 L412.41,242.12 L413.40,242.28 L414.38,242.43 L415.37,242.59 L416.36,242.74 L417.35,242.89 L418.34,243.04 L419.32,243.19 L420.31,243.34 L421.30,243.49 L422.29,243.63 L423.28,243.78 L424.27,243.92 L425.26,244.07 L426.24,244.21 L427.23,244.35 L428.22,244.49 L429.21,244.63 L430.20,244.77 L431.19,244.91 L432.18,245.04 L433.17,245.18 L434.16,245.31 L435.15,245.45 L436.14,245.58 L437.12,245.71 L438.11,245.84 L439.10,245.97 L440.09,246.10 L441.08,246.23 L442.07,246.35 L443.06,246.48 L444.05,246.61 L445.04,246.73 L446.03,246.85 L447.02,246.98 L448.01,247.10 L449.00,247.22 L449.99,247.34 L450.98,247.46 L451.97,247.58 L452.96,247.69 L453.96,247.81 L454.95,247.92 L455.94,248.04 L456.93,248.15 L457.92,248.27 L458.91,248.38 L459.90,248.49 L460.89,248.60 L461.88,248.71 L462.87,248.82 L463.86,248.93 L464.86,249.04 L465.85,249.14 L466.84,249.25 L467.83,249.36 L468.82,249.46 L469.81,249.56 L470.80,249.67 L471.80,249.77 L472.79,249.87 L473.78,249.97 L474.77,250.07 L475.76,250.17 L476.75,250.27 L477.75,250.37 L478.74,250.47 L479.73,250.56 L480.72,250.66 L481.72,250.75 L482.71,250.85 L483.70,250.94 L484.69,251.04 L485.68,251.13 L486.68,251.22 L487.67,251.31 L488.66,251.40 L489.65,251.49 L490.65,251.58 L491.64,251.67 L492.63,251.76 L493.63,251.85 L494.62,251.94 L495.61,252.02 L496.61,252.11 L497.60,252.19 L498.59,252.28 L499.58,252.36 L500.58,252.45 L501.57,252.53 L502.56,252.61 L503.56,252.69 L504.55,252.77 L505.54,252.86 L506.54,252.94 L507.53,253.02 L508.53,253.10 L509.52,253.17 L510.51,253.25 L511.51,253.33 L512.50,253.41 L513.50,253.48 L514.49,253.56 L515.48,253.64 L516.48,253.71 L517.47,253.79 L518.47,253.86 L519.46,253.94 L520.45,254.01 L521.45,254.08 L522.44,254.16 L523.44,254.23 L524.43,254.30 L525.43,254.37 L526.42,254.44 L527.42,254.51 L528.41,254.58 L529.41,254.65 L530.40,254.72 L531.39,254.79 L532.39,254.86 L533.38,254.93 L534.38,255.00 L535.37,255.07 L536.37,255.13 L537.37,255.20 L538.36,255.27 L539.36,255.33 L540.35,255.40 L541.35,255.46 L542.34,255.53 L543.34,255.59 L544.33,255.66 L545.33,255.72 L546.32,255.79 L547.32,255.85 L548.31,255.92 L549.31,255.98 L550.31,256.04 L551.30,256.11 L552.30,256.17 L553.29,256.23 L554.29,256.29 L555.29,256.35 L556.28,256.42 L557.28,256.48 L558.27,256.54 L559.27,256.60 L560.27,256.66 L561.26,256.72 L562.26,256.78 L563.25,256.84 L564.25,256.90 L565.25,256.96 L566.24,257.02 L567.24,257.08 L568.24,257.14 L569.23,257.20 L570.23,257.26 L571.23,257.32 L572.22,257.38 L573.22,257.43 L574.22,257.49 L575.21,257.55 L576.21,257.61 L577.21,257.67 L578.20,257.73 L579.20,257.78 L580.20,257.84 L581.19,257.90 L582.19,257.96 L583.19,258.01 L584.19,258.07 L585.18,258.13 L586.18,258.19 L587.18,258.24 L588.17,258.30 L589.17,258.36 L590.17,258.41 L591.17,258.47 L592.16,258.53 L593.16,258.58 L594.16,258.64 L595.16,258.69 L596.15,258.75 L597.15,258.81 L598.15,258.86 L599.15,258.92 L600.15,258.97 L601.14,259.03 L602.14,259.08 L603.14,259.14 L604.14,259.19 L605.13,259.25 L606.13,259.30 L607.13,259.36 L608.13,259.41 L609.13,259.46 L610.12,259.52 L611.12,259.57 L612.12,259.63 L613.12,259.68 L614.12,259.73 L615.11,259.79 L616.11,259.84 L617.11,259.89 L618.11,259.95 L619.11,260.00 L620.11,260.05 L621.10,260.11 L622.10,260.16 L623.10,260.21 L624.10,260.26 L625.10,260.32 L626.10,260.37 L627.10,260.42 L628.09,260.47 L629.09,260.52 L630.09,260.58 L631.09,260.63 L632.09,260.68 L633.09,260.73 L634.09,260.78 L635.09,260.83 L636.08,260.88 L637.08,260.94 L638.08,260.99 L639.08,261.04 L640.08,261.09 L641.08,261.14 L642.08,261.19 L643.08,261.24 L644.08,261.29 L645.08,261.34 L646.08,261.39 L647.07,261.44 L648.07,261.49 L649.07,261.54 L650.07,261.59 L651.07,261.64 L652.07,261.69 L653.07,261.73 L654.07,261.78 L655.07,261.83 L656.07,261.88 L657.07,261.93 L658.07,261.98 L659.07,262.03 L660.07,262.07 L661.07,262.12 L662.06,262.17 L663.06,262.22 L664.06,262.27 L665.06,262.31 L666.06,262.36 L667.06,262.41 L668.06,262.46 L669.06,262.50 L670.06,262.55 L671.06,262.60 L672.06,262.64 L673.06,262.69 L674.06,262.74 L675.06,262.78 L676.06,262.83 L677.06,262.88 L678.06,262.92 L679.06,262.97 L680.06,263.01 L681.06,263.06 L682.06,263.11 L683.06,263.15 L684.06,263.20 L685.06,263.24 L686.06,263.29 L687.06,263.33 L688.06,263.38 L689.06,263.42 L690.06,263.47 L691.06,263.51 L692.06,263.56 L693.06,263.60 L694.06,263.64 L695.06,263.69 L696.06,263.73 L697.06,263.78 L698.06,263.82 L699.06,263.86 L700.06,263.91 L701.06,263.95 L702.06,263.99 L703.06,264.04 L704.06,264.08 L705.06,264.12 L706.07,264.17 L707.07,264.21 L708.07,264.25 L709.07,264.30 L710.07,264.34 L711.07,264.38 L712.07,264.42 L713.07,264.46 L714.07,264.51 L715.07,264.55 L716.07,264.59 L717.07,264.63 L718.07,264.67 L719.07,264.71 L720.07,264.76 L721.07,264.80 L722.07,264.84 L723.07,264.88 L724.08,264.92 L725.08,264.96 L726.08,265.00 L727.08,265.04 L728.08,265.08 L729.08,265.12 L730.08,265.16 L731.08,265.20 L732.08,265.24 L733.08,265.28 L734.08,265.32 L735.08,265.36 L736.08,265.40 L737.08,265.44 L738.09,265.48 L739.09,265.52 L740.09,265.56 L741.09,265.60 L742.09,265.64 L743.09,265.68 L744.09,265.71 L745.09,265.75 L746.09,265.79 L747.09,265.83 L748.09,265.87 L749.09,265.91 L750.10,265.94 L751.10,265.98 L752.10,266.02 L753.10,266.06 L754.10,266.10 L755.10,266.13 L756.10,266.17 L757.10,266.21 L758.10,266.24 L759.10,266.28 L760.11,266.32 L761.11,266.36 L762.11,266.39 L763.11,266.43 L764.11,266.46 L765.11,266.50 L766.11,266.54 L767.11,266.57 L768.11,266.61 L769.11,266.65 L770.12,266.68 L771.12,266.72 L772.12,266.75 L773.12,266.79 L774.12,266.82 L775.12,266.86 L776.12,266.89 L777.12,266.93 L778.12,266.96 L779.12,267.00 L780.13,267.03 L781.13,267.07 L782.13,267.10 L783.13,267.14 L784.13,267.17 L785.13,267.21 L786.13,267.24 L787.13,267.27 L788.13,267.31 L789.13,267.34 L790.14,267.38 L791.14,267.41 L792.14,267.44 L793.14,267.48 L794.14,267.51 L795.14,267.54 L796.14,267.57 L797.14,267.61 L798.14,267.64 L799.15,267.67 L800.15,267.71 L801.15,267.74 L802.15,267.77 L803.15,267.80 L804.15,267.84 L805.15,267.87 L806.15,267.90 L807.15,267.93 L808.15,267.96 L809.16,267.99 L810.16,268.03 L811.16,268.06 L812.16,268.09 L813.16,268.12 L814.16,268.15 L815.16,268.18 L816.16,268.21 L817.16,268.24 L818.16,268.27 L819.17,268.30 L820.17,268.34 L821.17,268.37 L822.17,268.40 L823.17,268.43 L824.17,268.46 L825.17,268.49 L826.17,268.52 L827.17,268.55 L828.17,268.58 L829.17,268.60 L830.18,268.63 L831.18,268.66 L832.18,268.69 L833.18,268.72 L834.18,268.75 L835.18,268.78 L836.18,268.81 L837.18,268.84 L838.18,268.87 L839.18,268.89 L840.18,268.92 L841.19,268.95 L842.19,268.98 L843.19,269.01 L844.19,269.04 L845.19,269.06 L846.19,269.09 L847.19,269.12 L848.19,269.15 L849.19,269.17 L850.19,269.20 L851.19,269.23 L852.19,269.26 L853.19,269.28 L854.19,269.31 L855.20,269.34 L856.20,269.36 L857.20,269.39 L858.20,269.42 L859.20,269.44 L860.20,269.47 L861.20,269.50 L862.20,269.52 L863.20,269.55 L864.20,269.57 L865.20,269.60 L866.20,269.62 L867.20,269.65 L868.20,269.68 L869.20,269.70 L870.20,269.73 L871.20,269.75 L872.20,269.78 L873.20,269.80 L874.21,269.83 L875.21,269.85 L876.21,269.88 L877.21,269.90 L878.21,269.93 L879.21,269.95 L880.21,269.97 L881.21,270.00 L882.21,270.02 L883.21,270.05 L884.21,270.07 L885.21,270.09 L886.21,270.12 L887.21,270.14 L888.21,270.17 L889.21,270.19 L890.21,270.21 L891.21,270.23 L892.21,270.26 L893.21,270.28 L894.21,270.30 L895.21,270.33 L896.21,270.35 L897.21,270.37 L898.21,270.39 L899.21,270.42 L900.21,270.44 L901.21,270.46 L902.21,270.48 L903.21,270.51 L904.21,270.53 L905.21,270.55 L906.21,270.57 L907.21,270.59 L908.21,270.61 L909.21,270.64 L910.21,270.66 L911.21,270.68 L912.21,270.70 L913.21,270.72 L914.21,270.74 L915.21,270.76 L916.20,270.78 L917.20,270.80 L918.20,270.82 L919.20,270.84 L920.20,270.86 L921.20,270.89 L922.20,270.91 L923.20,270.93 L924.20,270.95 L925.20,270.97 L926.20,270.98 L927.20,271.00 L928.20,271.02 L929.20,271.04 L930.20,271.06 L931.20,271.08 L932.19,271.10 L933.19,271.12 L934.19,271.14 L935.19,271.16 L936.19,271.18 L937.19,271.20 L938.19,271.21 L939.19,271.23 L940.19,271.25 L941.19,271.27 L942.18,271.29 L943.18,271.31 L944.18,271.32 L945.18,271.34 L946.18,271.36 L947.18,271.38 L948.18,271.40 L949.18,271.41 L950.17,271.43 L951.17,271.45 L952.17,271.46 L953.17,271.48 L954.17,271.50 L955.17,271.52 L956.17,271.53 L957.16,271.55 L958.16,271.57 L959.16,271.58 L960.16,271.60 L961.16,271.62 L962.16,271.63 L963.15,271.65 L964.15,271.66 L965.15,271.68 L966.15,271.70 L967.15,271.71 L968.15,271.73 L969.14,271.74 L970.14,271.76 L971.14,271.77 L972.14,271.79 L973.14,271.81 L974.13,271.82 L975.13,271.84 L976.13,271.85 L977.13,271.87 L978.12,271.88 L979.12,271.89 L980.12,271.91 L981.12,271.92 L982.11,271.94 L983.11,271.95 L984.11,271.97 L985.11,271.98 L986.11,272.00 L987.10,272.01 L988.10,272.02 L989.10,272.04 L990.09,272.05 L991.09,272.06 L992.09,272.08 L993.09,272.09 L994.08,272.10 L995.08,272.12 L996.08,272.13 L997.07,272.14 L998.07,272.16 L999.07,272.17 L1000.07,272.18 L1001.06,272.20 L1002.06,272.21 L1003.06,272.22 L1004.05,272.23 L1005.05,272.24 L1006.05,272.26 L1007.04,272.27 L1008.04,272.28 L1009.04,272.29 L1010.03,272.31 L1011.03,272.32 L1012.03,272.33 L1013.02,272.34 L1014.02,272.35 L1015.01,272.36 L1016.01,272.37 L1017.01,272.39 L1018.00,272.40 L1019.00,272.41 L1020.00,272.42 L1020.99,272.43 L1021.99,272.44 L1022.98,272.45 L1023.94,272.46" fill="none" stroke="#141414" stroke-width="5.2" stroke-dasharray="4.5 25.46" stroke-dashoffset="-0.07"/>
<text x="95" y="38" text-anchor="end" font-size="45.5" >8</text>
<text x="95" y="184.3" text-anchor="end" font-size="45.5" >6</text>
<text x="95" y="329.5" text-anchor="end" font-size="45.5" >4</text>
<text x="95" y="476" text-anchor="end" font-size="45.5" >2</text>
<text x="95" y="621.3" text-anchor="end" font-size="45.5" >0</text>
<text x="1098" y="38" font-size="45.5"><tspan dy="3.8" dx="1.5">−</tspan><tspan dy="-3.8" dx="-1">8</tspan></text>
<text x="1098" y="184.3" font-size="45.5"><tspan dy="3.8" dx="1.5">−</tspan><tspan dy="-3.8" dx="-1">6</tspan></text>
<text x="1098" y="329.5" font-size="45.5"><tspan dy="3.8" dx="1.5">−</tspan><tspan dy="-3.8" dx="-1">4</tspan></text>
<text x="1098" y="476" font-size="45.5"><tspan dy="3.8" dx="1.5">−</tspan><tspan dy="-3.8" dx="-1">2</tspan></text>
<text x="1098" y="621.3" text-anchor="start" font-size="45.5" >0</text>
<text x="112.3" y="726.8" text-anchor="middle" font-size="45.5" >0</text>
<text x="354.4" y="726.8" text-anchor="middle" font-size="45.5" >4</text>
<text x="598.2" y="726.8" text-anchor="middle" font-size="45.5" >8</text>
<text x="842.2" y="726.8" text-anchor="middle" font-size="45.5" >12</text>
<text x="1085.5" y="726.8" text-anchor="middle" font-size="45.5" >16</text>
<line x1="837" y1="60.5" x2="930" y2="60.5" stroke="#141414" stroke-width="5.2" stroke-dasharray="22 28.2"/>
<line x1="837" y1="121.5" x2="930" y2="121.5" stroke="#e2302a" stroke-width="5.2"/>
<line x1="836.7" y1="182.5" x2="935" y2="182.5" stroke="#141414" stroke-width="5.2" stroke-dasharray="4.5 25.35"/>
<text x="938" y="73.3" font-size="47" style="fill:#2e2e2e" letter-spacing="-1.1"><tspan font-style="italic">H</tspan><tspan font-size="35" dy="16.5">0</tspan><tspan dy="-12.8">=</tspan><tspan dy="-3.7">0.4</tspan></text>
<text x="938" y="135.5" font-size="47" style="fill:#2e2e2e" letter-spacing="-1.1"><tspan font-style="italic">H</tspan><tspan font-size="35" dy="16.5">0</tspan><tspan dy="-12.8">=</tspan><tspan dy="-3.7">0.5</tspan></text>
<text x="938" y="197.7" font-size="47" style="fill:#2e2e2e" letter-spacing="-1.1"><tspan font-style="italic">H</tspan><tspan font-size="35" dy="16.5">0</tspan><tspan dy="-12.8">=</tspan><tspan dy="-3.7">0.6</tspan></text>
<text transform="translate(49,348) rotate(-90)" text-anchor="middle" font-size="52"><tspan font-style="italic">q</tspan>/(100 kPa)</text>
<text transform="translate(1200,353) rotate(-90)" text-anchor="middle" font-size="52"><tspan font-style="italic">ε</tspan><tspan font-size="38" dy="16">v</tspan><tspan font-size="55" dy="-16">/%</tspan></text>
<text x="608.5" y="796" text-anchor="middle" font-size="52"><tspan font-style="italic">ε</tspan><tspan font-size="38" dy="15.5">1</tspan><tspan font-size="55" dy="-15.5">/%</tspan></text>
</svg>
</body></html>
